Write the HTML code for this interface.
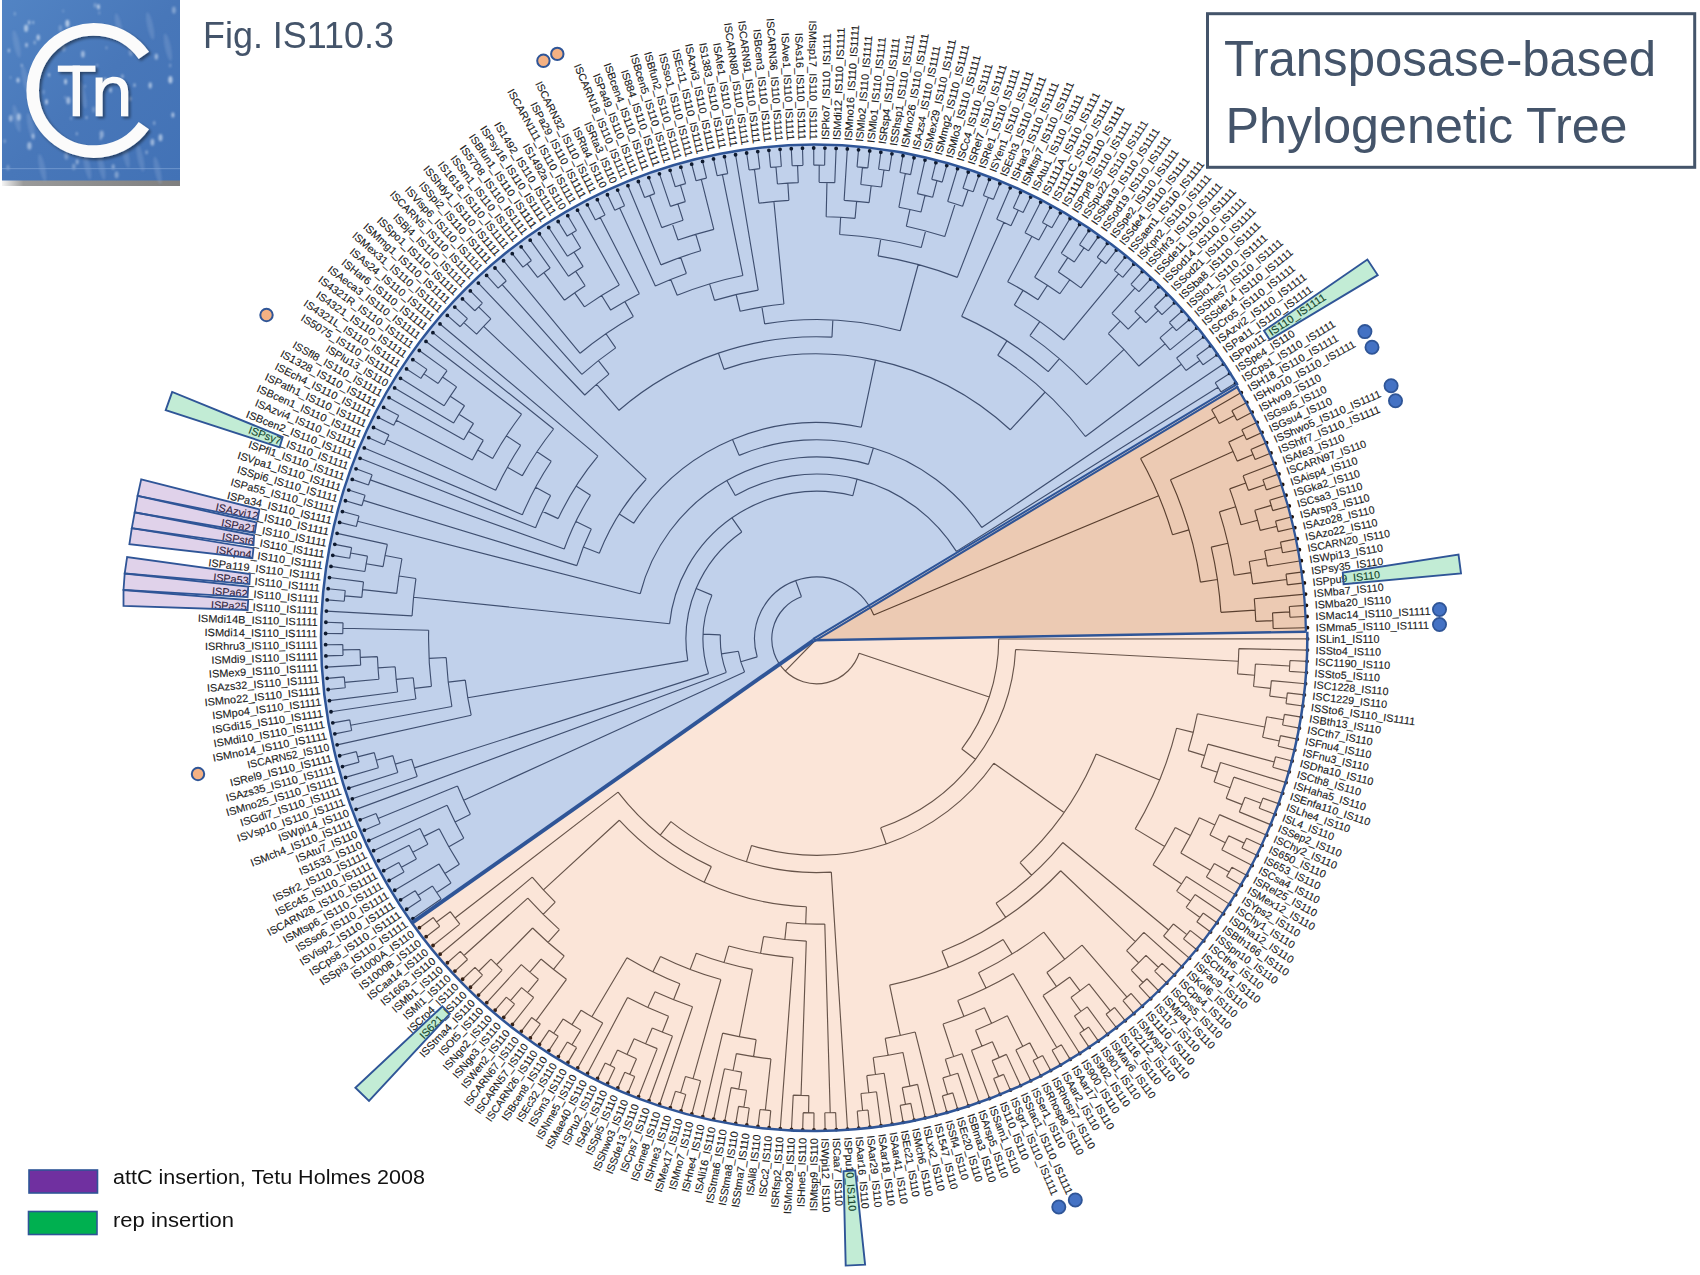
<!DOCTYPE html>
<html><head><meta charset="utf-8"><style>html,body{margin:0;padding:0;background:#fff;}svg{display:block;}</style></head>
<body><svg xmlns="http://www.w3.org/2000/svg" width="1700" height="1275" viewBox="0 0 1700 1275">
<rect width="1700" height="1275" fill="#fff"/>
<path d="M813.50,640.30L1237.71,385.21A493.1,493.1 0 1 0 411.93,922.95Z" fill="#C1D1EB"/><path d="M813.50,640.30L411.93,922.95A493.1,493.1 0 0 0 1307.31,631.68Z" fill="#FBE5D8"/><path d="M813.50,640.30L1305.91,631.70A491.7,491.7 0 0 0 1236.51,385.93Z" fill="#ECCAB3"/>
<defs><clipPath id="cb"><path d="M813.50,640.30L1237.71,385.21A493.1,493.1 0 1 0 411.93,922.95Z"/></clipPath><clipPath id="cp"><path d="M813.50,640.30L411.93,922.95A493.1,493.1 0 0 0 1307.31,631.68Z"/></clipPath><clipPath id="ct"><path d="M813.50,640.30L1305.91,631.70A491.7,491.7 0 0 0 1236.51,385.93Z"/></clipPath></defs>
<defs><path id="tr" d="M816.60,639.00L785.22,671.03M801.46,596.79A44.84,44.84 0 1 0 859.11,653.27M801.46,596.79L795.67,580.64M873.78,615.04A62.00,62.00 0 0 0 757.22,656.85M873.78,615.04L1158.66,495.66M1172.51,534.70A370.88,370.88 0 0 0 1140.54,458.41M1172.51,534.70L1188.98,529.87M1200.44,582.06A388.04,388.04 0 0 0 1170.46,479.75M1200.44,582.06L1217.41,579.54M1220.92,612.33A405.20,405.20 0 0 0 1211.25,547.15M1220.92,612.33L1255.17,610.07M1254.28,598.80A439.52,439.52 0 0 1 1255.77,621.35M1254.28,598.80L1305.54,594.10M1255.77,621.35L1272.91,620.66M1273.16,628.48A456.68,456.68 0 0 0 1272.53,612.84M1273.16,628.48L1307.47,627.69M1272.53,612.84L1289.66,611.86M1289.94,617.26A473.84,473.84 0 0 0 1289.32,606.46M1289.94,617.26L1307.08,616.48M1289.32,606.46L1306.44,605.28M1211.25,547.15L1227.97,543.26M1234.12,575.23A422.36,422.36 0 0 0 1219.37,511.85M1234.12,575.23L1251.08,572.64M1252.64,583.83A439.52,439.52 0 0 0 1249.23,561.50M1252.64,583.83L1286.69,579.52M1287.34,584.90A473.84,473.84 0 0 0 1285.98,574.16M1287.34,584.90L1304.39,582.94M1285.98,574.16L1302.98,571.81M1249.23,561.50L1266.12,558.47M1267.44,566.19A456.68,456.68 0 0 0 1264.68,550.78M1267.44,566.19L1301.32,560.71M1264.68,550.78L1281.51,547.47M1282.53,552.78A473.84,473.84 0 0 0 1280.44,542.16M1282.53,552.78L1299.40,549.66M1280.44,542.16L1297.24,538.65M1219.37,511.85L1235.73,506.69M1241.01,524.76A439.52,439.52 0 0 0 1229.68,488.86M1241.01,524.76L1257.58,520.30M1260.18,530.40A456.68,456.68 0 0 0 1254.76,510.25M1260.18,530.40L1276.85,526.32M1278.11,531.59A473.84,473.84 0 0 0 1275.53,521.07M1278.11,531.59L1294.82,527.70M1275.53,521.07L1292.15,516.80M1254.76,510.25L1271.22,505.42M1272.72,510.62A473.84,473.84 0 0 0 1269.67,500.23M1272.72,510.62L1289.24,505.97M1269.67,500.23L1286.07,495.21M1229.68,488.86L1245.81,483.00M1248.42,490.37A456.68,456.68 0 0 0 1243.07,475.67M1248.42,490.37L1264.64,484.79M1266.38,489.92A473.84,473.84 0 0 0 1262.85,479.68M1266.38,489.92L1282.67,484.52M1262.85,479.68L1279.01,473.91M1243.07,475.67L1275.12,463.39M1170.46,479.75L1233.05,451.58M1237.22,461.15A456.68,456.68 0 0 0 1228.66,442.12M1237.22,461.15L1253.03,454.47M1255.11,459.46A473.84,473.84 0 0 0 1250.89,449.49M1255.11,459.46L1270.99,452.96M1250.89,449.49L1266.62,442.63M1228.66,442.12L1244.14,434.72M1246.45,439.62A473.84,473.84 0 0 0 1241.78,429.85M1246.45,439.62L1262.02,432.40M1241.78,429.85L1257.18,422.28M1140.54,458.41L1215.49,416.63M1219.24,423.50A456.68,456.68 0 0 0 1211.62,409.83M1219.24,423.50L1234.37,415.40M1236.89,420.19A473.84,473.84 0 0 0 1231.79,410.65M1236.89,420.19L1252.12,412.27M1231.79,410.65L1246.82,402.38M1211.62,409.83L1241.30,392.61M757.22,656.85L740.79,661.79M738.39,651.25A79.16,79.16 0 0 0 744.60,671.90M738.39,651.25L721.44,653.91M720.37,634.81A96.32,96.32 0 0 0 726.26,672.42M720.37,634.81L703.23,634.07M711.95,595.12A113.48,113.48 0 0 0 708.53,673.63M711.95,595.12L696.12,588.48M741.77,531.91A130.64,130.64 0 0 0 687.77,660.69M741.77,531.91L731.94,517.85M852.84,495.71A147.80,147.80 0 0 0 669.59,623.75M852.84,495.71L857.04,479.07M956.37,551.38A164.96,164.96 0 0 0 735.29,495.47M956.37,551.38L1218.07,387.32M1220.92,391.92A473.84,473.84 0 0 0 1215.17,382.75M1220.92,391.92L1235.56,382.97M1215.17,382.75L1229.60,373.47M735.29,495.47L726.83,480.54M868.46,464.42A182.12,182.12 0 0 0 640.19,593.74M868.46,464.42L873.35,447.97M981.72,527.43A199.28,199.28 0 0 0 739.17,455.38M981.72,527.43L1223.43,364.10M739.17,455.38L732.50,439.57M861.29,427.22A216.44,216.44 0 0 0 633.76,523.17M861.29,427.22L875.46,360.06M1010.23,429.77A285.08,285.08 0 0 0 724.02,369.37M1010.23,429.77L1045.20,391.99M1085.41,436.49A336.56,336.56 0 0 0 997.72,355.33M1085.41,436.49L1181.36,364.21M1186.01,370.50A456.68,456.68 0 0 0 1176.59,358.00M1186.01,370.50L1199.89,360.41M1203.05,364.81A473.84,473.84 0 0 0 1196.68,356.05M1203.05,364.81L1217.04,354.88M1196.68,356.05L1210.45,345.80M1176.59,358.00L1203.65,336.88M997.72,355.33L1006.95,340.87M1048.23,371.67A353.72,353.72 0 0 0 961.64,316.38M1048.23,371.67L1059.47,358.70M1086.55,384.68A370.88,370.88 0 0 0 1029.91,335.60M1086.55,384.68L1124.02,349.38M1138.89,366.02A422.36,422.36 0 0 0 1108.29,333.55M1138.89,366.02L1165.07,343.83M1170.08,349.85A456.68,456.68 0 0 0 1159.96,337.91M1170.08,349.85L1196.64,328.12M1159.96,337.91L1172.87,326.59M1176.41,330.68A473.84,473.84 0 0 0 1169.27,322.54M1176.41,330.68L1189.44,319.52M1169.27,322.54L1182.05,311.08M1108.29,333.55L1120.15,321.14M1128.21,329.04A439.52,439.52 0 0 0 1111.88,313.44M1128.21,329.04L1140.38,316.94M1145.85,322.54A456.68,456.68 0 0 0 1134.82,311.44M1145.85,322.54L1158.22,310.64M1161.95,314.57A473.84,473.84 0 0 0 1154.45,306.76M1161.95,314.57L1174.46,302.82M1154.45,306.76L1166.69,294.73M1134.82,311.44L1158.73,286.82M1111.88,313.44L1134.93,288.02M1138.92,291.68A473.84,473.84 0 0 0 1130.90,284.40M1138.92,291.68L1150.59,279.10M1130.90,284.40L1142.28,271.56M1029.91,335.60L1039.78,321.56M1063.89,339.96A388.04,388.04 0 0 0 1014.30,305.10M1063.89,339.96L1118.57,273.84M1122.72,277.32A473.84,473.84 0 0 0 1114.38,270.42M1122.72,277.32L1133.81,264.22M1114.38,270.42L1125.16,257.07M1014.30,305.10L1023.05,290.34M1038.03,299.65A405.20,405.20 0 0 0 1007.67,281.68M1038.03,299.65L1047.41,285.28M1059.89,293.75A422.36,422.36 0 0 0 1034.64,277.27M1059.89,293.75L1069.77,279.72M1080.93,287.85A439.52,439.52 0 0 0 1058.36,271.94M1080.93,287.85L1101.57,260.43M1105.88,263.71A473.84,473.84 0 0 0 1097.23,257.20M1105.88,263.71L1116.35,250.12M1097.23,257.20L1107.39,243.37M1058.36,271.94L1067.80,257.61M1074.30,261.97A456.68,456.68 0 0 0 1061.23,253.37M1074.30,261.97L1083.98,247.81M1088.43,250.89A473.84,473.84 0 0 0 1079.49,244.78M1088.43,250.89L1098.28,236.83M1079.49,244.78L1089.02,230.50M1061.23,253.37L1079.61,224.38M1034.64,277.27L1070.07,218.48M1007.67,281.68L1031.94,236.28M1038.81,240.03A456.68,456.68 0 0 0 1025.01,232.65M1038.81,240.03L1047.16,225.04M1051.88,227.70A473.84,473.84 0 0 0 1042.42,222.43M1051.88,227.70L1060.40,212.80M1042.42,222.43L1050.60,207.34M1025.01,232.65L1040.67,202.11M961.64,316.38L1003.86,222.48M1010.97,225.75A456.68,456.68 0 0 0 996.69,219.33M1010.97,225.75L1018.27,210.22M1023.15,212.55A473.84,473.84 0 0 0 1013.36,207.94M1023.15,212.55L1030.64,197.11M1013.36,207.94L1020.48,192.33M996.69,219.33L1010.23,187.79M724.02,369.37L718.45,353.14M831.97,337.15A302.24,302.24 0 0 0 619.05,410.26M831.97,337.15L832.84,320.01M900.27,330.75A319.40,319.40 0 0 0 764.68,323.85M900.27,330.75L918.25,264.51M957.32,277.37A388.04,388.04 0 0 0 878.05,255.86M957.32,277.37L988.43,197.41M993.46,199.40A473.84,473.84 0 0 0 983.37,195.48M993.46,199.40L999.87,183.48M983.37,195.48L989.41,179.42M878.05,255.86L880.77,238.91M921.21,247.54A405.20,405.20 0 0 0 839.66,234.46M921.21,247.54L925.64,230.96M944.74,236.55A422.36,422.36 0 0 0 906.30,226.28M944.74,236.55L955.16,203.85M962.59,206.28A456.68,456.68 0 0 0 947.68,201.54M962.59,206.28L968.08,190.02M973.20,191.78A473.84,473.84 0 0 0 962.94,188.32M973.20,191.78L978.87,175.59M962.94,188.32L968.24,172.00M947.68,201.54L957.53,168.66M906.30,226.28L909.94,209.51M920.95,212.05A439.52,439.52 0 0 0 898.88,207.25M920.95,212.05L925.03,195.38M932.61,197.30A456.68,456.68 0 0 0 917.41,193.59M932.61,197.30L936.97,180.70M942.20,182.11A473.84,473.84 0 0 0 931.73,179.36M942.20,182.11L946.75,165.56M931.73,179.36L935.90,162.71M917.41,193.59L924.99,160.11M898.88,207.25L905.30,173.54M910.61,174.58A473.84,473.84 0 0 0 899.98,172.55M910.61,174.58L914.02,157.76M899.98,172.55L903.00,155.66M839.66,234.46L840.63,217.32M855.07,218.40A422.36,422.36 0 0 0 826.17,216.75M855.07,218.40L856.63,201.31M869.11,202.63A439.52,439.52 0 0 0 844.11,200.34M869.11,202.63L871.16,185.59M881.51,186.96A456.68,456.68 0 0 0 860.79,184.46M881.51,186.96L883.95,169.97M889.30,170.77A473.84,473.84 0 0 0 878.58,169.23M889.30,170.77L891.93,153.81M878.58,169.23L880.83,152.22M860.79,184.46L862.45,167.38M867.83,167.94A473.84,473.84 0 0 0 857.06,166.89M867.83,167.94L869.69,150.88M857.06,166.89L858.52,149.79M844.11,200.34L847.34,148.96M826.17,216.75L826.95,182.44M834.77,182.68A456.68,456.68 0 0 0 819.12,182.33M834.77,182.68L836.13,148.39M819.12,182.33L819.22,165.17M824.63,165.23A473.84,473.84 0 0 0 813.80,165.17M824.63,165.23L824.92,148.07M813.80,165.17L813.70,148.01M764.68,323.85L761.89,306.92M783.91,304.03A336.56,336.56 0 0 0 740.10,311.25M783.91,304.03L773.90,201.56M788.92,200.35A439.52,439.52 0 0 0 758.94,203.28M788.92,200.35L787.84,183.23M798.26,182.69A456.68,456.68 0 0 0 777.43,184.00M798.26,182.69L797.57,165.54M802.98,165.36A473.84,473.84 0 0 0 792.16,165.79M802.98,165.36L802.49,148.20M792.16,165.79L791.28,148.65M777.43,184.00L775.96,166.91M781.36,166.47A473.84,473.84 0 0 0 770.57,167.40M781.36,166.47L780.08,149.36M770.57,167.40L768.90,150.32M758.94,203.28L754.44,169.26M759.81,168.58A473.84,473.84 0 0 0 749.08,170.00M759.81,168.58L757.75,151.54M749.08,170.00L746.63,153.01M740.10,311.25L736.20,294.54M758.21,290.13A353.72,353.72 0 0 0 714.52,300.33M758.21,290.13L735.55,154.74M714.52,300.33L709.57,283.90M742.88,275.52A370.88,370.88 0 0 0 677.18,295.32M742.88,275.52L722.41,174.62M727.72,173.57A473.84,473.84 0 0 0 717.11,175.72M727.72,173.57L724.50,156.71M717.11,175.72L713.51,158.94M677.18,295.32L670.73,279.42M686.39,273.46A388.04,388.04 0 0 0 655.34,286.06M686.39,273.46L680.63,257.29M700.70,250.73A405.20,405.20 0 0 0 660.93,264.90M700.70,250.73L695.80,234.29M713.82,229.34A422.36,422.36 0 0 0 678.00,240.03M713.82,229.34L701.30,179.40M706.55,178.12A473.84,473.84 0 0 0 696.05,180.75M706.55,178.12L702.57,161.42M696.05,180.75L691.69,164.15M678.00,240.03L672.37,223.82M683.09,220.25A439.52,439.52 0 0 0 661.75,227.66M683.09,220.25L677.88,203.90M685.35,201.59A456.68,456.68 0 0 0 670.44,206.34M685.35,201.59L680.42,185.15M685.62,183.62A473.84,473.84 0 0 0 675.25,186.73M685.62,183.62L680.87,167.13M675.25,186.73L670.13,170.36M670.44,206.34L659.46,173.82M661.75,227.66L649.66,195.54M654.74,193.66A473.84,473.84 0 0 0 644.60,197.48M654.74,193.66L648.87,177.54M644.60,197.48L638.37,181.49M660.93,264.90L627.97,185.68M655.34,286.06L619.68,208.02M624.61,205.80A473.84,473.84 0 0 0 614.77,210.30M624.61,205.80L617.66,190.11M614.77,210.30L607.46,194.77M619.05,410.26L596.62,384.28M608.97,374.12A336.56,336.56 0 0 0 584.76,395.02M608.97,374.12L598.38,360.62M615.69,347.87A353.72,353.72 0 0 0 581.87,374.38M615.69,347.87L605.95,333.75M633.36,316.55A370.88,370.88 0 0 0 580.14,353.28M633.36,316.55L624.88,301.63M639.38,293.79A388.04,388.04 0 0 0 610.72,310.08M639.38,293.79L600.20,217.46M605.03,215.02A473.84,473.84 0 0 0 595.39,219.96M605.03,215.02L597.36,199.66M595.39,219.96L587.38,204.79M610.72,310.08L601.62,295.53M619.30,285.08A405.20,405.20 0 0 0 584.49,306.87M619.30,285.08L577.52,210.14M584.49,306.87L574.66,292.80M585.15,285.70A422.36,422.36 0 0 0 564.39,300.21M585.15,285.70L575.75,271.35M583.15,266.61A439.52,439.52 0 0 0 568.45,276.24M583.15,266.61L574.03,252.07M580.70,247.97A456.68,456.68 0 0 0 567.44,256.28M580.70,247.97L571.83,233.27M576.48,230.50A473.84,473.84 0 0 0 567.21,236.10M576.48,230.50L567.79,215.71M567.21,236.10L558.18,221.51M567.44,256.28L548.71,227.52M568.45,276.24L539.38,233.75M564.39,300.21L543.90,272.68M537.66,277.41A456.68,456.68 0 0 1 550.21,268.06M537.66,277.41L527.18,263.82M531.48,260.54A473.84,473.84 0 0 0 522.91,267.15M531.48,260.54L521.16,246.83M522.91,267.15L512.28,253.68M550.21,268.06L530.20,240.19M580.14,353.28L503.55,260.74M581.87,374.38L502.16,284.52M506.23,280.95A473.84,473.84 0 0 0 498.13,288.14M506.23,280.95L494.99,267.99M498.13,288.14L486.60,275.43M584.76,395.02L478.38,283.07M633.76,523.17L619.27,513.98M646.28,479.12A233.60,233.60 0 0 0 599.29,553.30M646.28,479.12L483.64,326.44M490.86,318.92A456.68,456.68 0 0 0 476.58,334.13M490.86,318.92L478.62,306.89M482.44,303.05A473.84,473.84 0 0 0 474.85,310.77M482.44,303.05L470.34,290.89M474.85,310.77L462.47,298.89M476.58,334.13L463.80,322.68M467.44,318.67A473.84,473.84 0 0 0 460.21,326.73M467.44,318.67L454.80,307.07M460.21,326.73L447.31,315.42M599.29,553.30L583.32,547.01M591.29,528.93A250.76,250.76 0 0 0 576.81,565.65M591.29,528.93L575.87,521.40M590.50,495.26A267.92,267.92 0 0 0 564.24,549.01M590.50,495.26L576.02,486.05M597.95,456.07A285.08,285.08 0 0 0 558.18,518.63M597.95,456.07L440.01,323.94M558.18,518.63L542.62,511.39M550.64,495.43A302.24,302.24 0 0 0 535.56,527.79M550.64,495.43L535.54,487.28M551.26,461.21A319.40,319.40 0 0 0 522.37,514.72M551.26,461.21L537.00,451.66M553.60,428.99A336.56,336.56 0 0 0 522.35,475.63M553.60,428.99L432.91,332.63M522.35,475.63L507.35,467.30M520.68,445.23A353.72,353.72 0 0 0 495.66,490.29M520.68,445.23L506.32,435.82M521.57,414.26A370.88,370.88 0 0 0 492.65,458.42M521.57,414.26L426.01,341.47M492.65,458.42L477.66,450.06M483.27,440.34A388.04,388.04 0 0 0 472.34,459.94M483.27,440.34L468.53,431.56M473.51,423.42A405.20,405.20 0 0 0 463.74,439.82M473.51,423.42L458.98,414.29M464.54,405.67A422.36,422.36 0 0 0 453.63,423.03M464.54,405.67L450.24,396.19M456.60,386.86A439.52,439.52 0 0 0 444.12,405.69M456.60,386.86L442.54,377.01M447.09,370.64A456.68,456.68 0 0 0 438.11,383.46M447.09,370.64L419.32,350.47M438.11,383.46L423.89,373.86M426.94,369.39A473.84,473.84 0 0 0 420.88,378.36M426.94,369.39L412.83,359.62M420.88,378.36L406.55,368.92M444.12,405.69L400.49,378.36M453.63,423.03L394.64,387.94M463.74,439.82L389.02,397.64M472.34,459.94L396.22,420.35M398.75,415.56A473.84,473.84 0 0 0 393.75,425.17M398.75,415.56L383.62,407.47M393.75,425.17L378.44,417.42M495.66,490.29L386.67,439.78M388.98,434.88A473.84,473.84 0 0 0 384.43,444.71M388.98,434.88L373.49,427.49M384.43,444.71L368.77,437.67M522.37,514.72L364.29,447.95M535.56,527.79L360.05,458.34M564.24,549.01L370.29,479.85M372.13,474.76A473.84,473.84 0 0 0 368.50,484.96M372.13,474.76L356.04,468.82M368.50,484.96L352.27,479.38M576.81,565.65L363.48,500.41M365.09,495.24A473.84,473.84 0 0 0 361.93,505.59M365.09,495.24L348.74,490.03M361.93,505.59L345.46,500.76M640.19,593.74L357.62,521.25M359.00,516.01A473.84,473.84 0 0 0 356.31,526.50M359.00,516.01L342.43,511.56M356.31,526.50L339.64,522.42M669.59,623.75L413.56,597.20M415.93,578.55A405.20,405.20 0 0 0 412.06,615.94M415.93,578.55L398.97,575.99M401.93,558.75A422.36,422.36 0 0 0 396.72,593.33M401.93,558.75L385.09,555.49M387.37,544.43A439.52,439.52 0 0 0 383.08,566.61M387.37,544.43L337.10,533.35M383.08,566.61L366.16,563.78M367.51,556.08A456.68,456.68 0 0 0 364.93,571.51M367.51,556.08L350.64,552.96M351.65,547.64A473.84,473.84 0 0 0 349.68,558.29M351.65,547.64L334.81,544.33M349.68,558.29L332.78,555.37M364.93,571.51L330.99,566.44M396.72,593.33L362.60,589.62M363.51,581.85A456.68,456.68 0 0 0 361.82,597.41M363.51,581.85L329.46,577.55M361.82,597.41L344.73,595.85M345.25,590.46A473.84,473.84 0 0 0 344.27,601.24M345.25,590.46L328.18,588.70M344.27,601.24L327.16,599.87M412.06,615.94L326.40,611.06M687.77,660.69L467.79,697.73M465.27,680.08A353.72,353.72 0 0 0 471.19,715.24M465.27,680.08L448.23,682.07M446.18,657.47A370.88,370.88 0 0 0 451.91,706.48M446.18,657.47L429.04,658.32M428.66,630.21A388.04,388.04 0 0 0 431.46,686.33M428.66,630.21L342.88,628.26M343.04,622.85A473.84,473.84 0 0 0 342.79,633.68M343.04,622.85L325.89,622.27M342.79,633.68L325.63,633.48M431.46,686.33L414.43,688.43M413.26,677.79A405.20,405.20 0 0 0 415.87,699.03M413.26,677.79L396.18,679.43M395.16,666.80A422.36,422.36 0 0 0 397.58,692.02M395.16,666.80L378.03,667.93M377.43,656.65A439.52,439.52 0 0 0 378.92,679.20M377.43,656.65L360.29,657.34M360.04,649.52A456.68,456.68 0 0 0 360.67,665.16M360.04,649.52L342.89,649.92M342.79,644.50A473.84,473.84 0 0 0 343.04,655.33M342.79,644.50L325.63,644.70M343.04,655.33L325.89,655.92M360.67,665.16L326.41,667.12M378.92,679.20L344.75,682.33M344.28,676.94A473.84,473.84 0 0 0 345.27,687.72M344.28,676.94L327.18,678.32M345.27,687.72L328.20,689.49M397.58,692.02L329.48,700.63M415.87,699.03L331.02,711.74M451.91,706.48L350.67,725.22M349.72,719.89A473.84,473.84 0 0 0 351.69,730.53M349.72,719.89L332.81,722.82M351.69,730.53L334.85,733.85M471.19,715.24L337.14,744.83M708.53,673.63L414.38,767.87M411.71,759.23A422.36,422.36 0 0 0 417.23,776.46M411.71,759.23L395.26,764.11M392.85,755.66A439.52,439.52 0 0 0 397.85,772.51M392.85,755.66L376.30,760.22M374.29,752.66A456.68,456.68 0 0 0 378.44,767.75M374.29,752.66L357.67,756.93M356.35,751.68A473.84,473.84 0 0 0 359.05,762.16M356.35,751.68L339.68,755.76M359.05,762.16L342.48,766.62M378.44,767.75L345.52,777.42M397.85,772.51L348.80,788.15M417.23,776.46L352.33,798.80M726.26,672.42L356.10,809.36M744.60,671.90L463.66,800.26M457.49,786.03A388.04,388.04 0 0 0 470.39,814.24M457.49,786.03L378.09,818.54M376.07,813.52A473.84,473.84 0 0 0 380.17,823.53M376.07,813.52L360.11,819.84M380.17,823.53L364.36,830.22M470.39,814.24L455.08,821.99M447.09,805.29A405.20,405.20 0 0 0 463.81,838.32M447.09,805.29L368.85,840.50M463.81,838.32L448.87,846.76M439.22,828.67A422.36,422.36 0 0 0 459.39,864.36M439.22,828.67L423.89,836.37M420.02,828.48A439.52,439.52 0 0 0 427.91,844.18M420.02,828.48L373.57,850.68M427.91,844.18L412.74,852.19M409.14,845.24A456.68,456.68 0 0 0 416.45,859.08M409.14,845.24L378.52,860.74M416.45,859.08L401.41,867.35M398.83,862.60A473.84,473.84 0 0 0 404.05,872.08M398.83,862.60L383.70,870.69M404.05,872.08L389.11,880.52M459.39,864.36L444.87,873.52M438.97,863.89A439.52,439.52 0 0 0 451.02,882.99M438.97,863.89L394.74,890.23M451.02,882.99L436.75,892.52M432.46,885.97A456.68,456.68 0 0 0 441.15,898.99M432.46,885.97L418.03,895.25M415.13,890.68A473.84,473.84 0 0 0 420.98,899.79M415.13,890.68L400.59,899.80M420.98,899.79L406.66,909.23M441.15,898.99L412.94,918.53M859.11,653.27L989.24,696.98M961.78,748.95A182.12,182.12 0 0 0 998.72,638.97M961.78,748.95L975.46,759.31M880.63,827.71A199.28,199.28 0 0 0 1015.60,649.49M880.63,827.71L886.14,843.96M751.57,845.44A216.44,216.44 0 0 0 993.83,763.24M751.57,845.44L746.41,861.81M670.92,821.61A233.60,233.60 0 0 0 831.31,872.14M670.92,821.61L660.22,835.02M618.05,792.16A250.76,250.76 0 0 0 711.37,866.61M618.05,792.16L455.01,917.94M450.28,911.70A456.68,456.68 0 0 0 459.84,924.09M450.28,911.70L436.52,921.95M433.31,917.59A473.84,473.84 0 0 0 439.77,926.27M433.31,917.59L419.43,927.68M439.77,926.27L426.13,936.68M459.84,924.09L433.03,945.52M711.37,866.61L704.17,882.19M619.28,820.23A267.92,267.92 0 0 0 806.36,906.72M619.28,820.23L543.45,889.88M532.23,877.09A370.88,370.88 0 0 0 555.24,902.14M532.23,877.09L440.13,954.20M555.24,902.14L543.15,914.32M527.79,898.15A388.04,388.04 0 0 0 559.42,929.57M527.79,898.15L463.93,955.46M460.33,951.41A473.84,473.84 0 0 0 467.56,959.47M460.33,951.41L447.43,962.72M467.56,959.47L454.92,971.07M559.42,929.57L548.04,942.42M532.60,928.02A405.20,405.20 0 0 0 564.22,956.00M532.60,928.02L496.52,964.74M490.98,959.20A456.68,456.68 0 0 0 502.15,970.17M490.98,959.20L478.75,971.24M474.98,967.36A473.84,473.84 0 0 0 482.57,975.07M474.98,967.36L462.60,979.25M482.57,975.07L470.47,987.25M502.15,970.17L478.52,995.06M564.22,956.00L553.53,969.43M540.99,959.04A422.36,422.36 0 0 0 566.46,979.32M540.99,959.04L529.79,972.04M521.32,964.56A439.52,439.52 0 0 0 538.44,979.30M521.32,964.56L486.74,1002.69M538.44,979.30L527.58,992.59M521.57,987.59A456.68,456.68 0 0 0 533.68,997.49M521.57,987.59L510.48,1000.68M506.37,997.16A473.84,473.84 0 0 0 514.63,1004.16M506.37,997.16L495.13,1010.13M514.63,1004.16L503.70,1017.38M533.68,997.49L512.42,1024.43M566.46,979.32L535.97,1020.80M531.63,1017.57A473.84,473.84 0 0 0 540.35,1023.98M531.63,1017.57L521.31,1031.28M540.35,1023.98L530.35,1037.92M806.36,906.72L805.70,923.87M786.65,922.50A285.08,285.08 0 0 0 824.80,923.96M786.65,922.50L784.85,939.57M763.56,936.55A302.24,302.24 0 0 0 806.30,941.06M763.56,936.55L760.55,953.44M728.73,946.07A319.40,319.40 0 0 0 792.97,957.52M728.73,946.07L724.01,962.57M696.29,953.32A336.56,336.56 0 0 0 752.42,969.38M696.29,953.32L690.16,969.35M660.48,956.40A353.72,353.72 0 0 0 720.89,979.53M660.48,956.40L652.90,971.80M626.96,957.73A370.88,370.88 0 0 0 679.89,983.76M626.96,957.73L591.86,1016.72M581.16,1010.14A439.52,439.52 0 0 0 602.74,1022.98M581.16,1010.14L571.97,1024.63M563.23,1018.94A456.68,456.68 0 0 0 580.85,1030.12M563.23,1018.94L553.71,1033.22M549.22,1030.19A473.84,473.84 0 0 0 558.23,1036.20M549.22,1030.19L539.54,1044.36M558.23,1036.20L548.87,1050.58M580.85,1030.12L571.99,1044.82M567.37,1042.00A473.84,473.84 0 0 0 576.64,1047.59M567.37,1042.00L558.34,1056.59M576.64,1047.59L567.95,1062.38M602.74,1022.98L577.69,1067.95M679.89,983.76L673.56,999.72M654.97,991.77A388.04,388.04 0 0 0 692.55,1006.68M654.97,991.77L647.82,1007.37M627.57,997.41A405.20,405.20 0 0 0 668.58,1016.20M627.57,997.41L587.55,1073.30M668.58,1016.20L662.32,1032.17M652.26,1028.08A422.36,422.36 0 0 0 672.47,1036.01M652.26,1028.08L645.59,1043.88M634.09,1038.84A439.52,439.52 0 0 0 657.22,1048.60M634.09,1038.84L626.97,1054.45M617.53,1050.01A456.68,456.68 0 0 0 636.51,1058.67M617.53,1050.01L610.05,1065.45M605.19,1063.06A473.84,473.84 0 0 0 614.93,1067.78M605.19,1063.06L597.53,1078.42M614.93,1067.78L607.63,1083.31M636.51,1058.67L629.74,1074.44M624.78,1072.28A473.84,473.84 0 0 0 634.73,1076.55M624.78,1072.28L617.83,1087.97M634.73,1076.55L628.14,1092.39M657.22,1048.60L638.55,1096.58M672.47,1036.01L649.05,1100.53M692.55,1006.68L659.64,1104.23M720.89,979.53L693.04,1078.65M685.52,1076.46A456.68,456.68 0 0 0 700.59,1080.70M685.52,1076.46L680.60,1092.90M675.42,1091.32A473.84,473.84 0 0 0 685.79,1094.43M675.42,1091.32L670.31,1107.70M685.79,1094.43L681.05,1110.92M700.59,1080.70L691.87,1113.89M752.42,969.38L739.33,1036.76M722.65,1033.16A405.20,405.20 0 0 0 756.15,1039.67M722.65,1033.16L702.75,1116.62M756.15,1039.67L753.59,1056.63M736.35,1053.67A422.36,422.36 0 0 0 770.93,1058.88M736.35,1053.67L733.09,1070.51M724.48,1068.76A439.52,439.52 0 0 0 741.73,1072.10M724.48,1068.76L713.69,1119.09M741.73,1072.10L738.81,1089.01M731.11,1087.61A456.68,456.68 0 0 0 746.53,1090.27M731.11,1087.61L724.69,1121.32M746.53,1090.27L743.90,1107.23M738.56,1106.37A473.84,473.84 0 0 0 749.25,1108.03M738.56,1106.37L735.73,1123.29M749.25,1108.03L746.82,1125.02M770.93,1058.88L765.37,1110.06M759.99,1109.45A473.84,473.84 0 0 0 770.75,1110.62M759.99,1109.45L757.94,1126.48M770.75,1110.62L769.09,1127.70M792.97,957.52L780.27,1128.65M806.30,941.06L801.04,1095.41M793.22,1095.08A456.68,456.68 0 0 0 808.86,1095.61M793.22,1095.08L791.46,1129.36M808.86,1095.61L808.57,1112.77M803.16,1112.65A473.84,473.84 0 0 0 813.98,1112.83M803.16,1112.65L802.67,1129.80M813.98,1112.83L813.89,1129.99M824.80,923.96L830.22,1112.64M824.81,1112.77A473.84,473.84 0 0 0 835.63,1112.46M824.81,1112.77L825.11,1129.93M835.63,1112.46L836.32,1129.60M831.31,872.14L847.52,1129.03M993.83,763.24L1064.09,812.49M1019.99,862.57A302.24,302.24 0 0 0 1096.12,753.96M1019.99,862.57L1031.54,875.26M996.03,903.24A319.40,319.40 0 0 0 1062.74,842.55M996.03,903.24L1005.67,917.44M941.98,951.33A336.56,336.56 0 0 0 1060.67,870.74M941.98,951.33L948.37,967.26M889.63,985.10A353.72,353.72 0 0 0 1003.14,939.53M889.63,985.10L900.26,1035.47M885.20,1038.35A405.20,405.20 0 0 0 915.20,1032.02M885.20,1038.35L888.11,1055.26M873.20,1057.55A422.36,422.36 0 0 0 902.92,1052.45M873.20,1057.55L875.50,1074.56M866.78,1075.65A439.52,439.52 0 0 0 884.20,1073.29M866.78,1075.65L868.74,1092.69M860.96,1093.52A456.68,456.68 0 0 0 876.51,1091.73M860.96,1093.52L862.63,1110.60M857.24,1111.09A473.84,473.84 0 0 0 868.01,1110.04M857.24,1111.09L858.71,1128.19M868.01,1110.04L869.88,1127.10M876.51,1091.73L881.01,1125.76M884.20,1073.29L892.12,1124.16M902.92,1052.45L909.93,1086.04M902.26,1087.57A456.68,456.68 0 0 0 917.58,1084.38M902.26,1087.57L905.48,1104.43M900.15,1105.42A473.84,473.84 0 0 0 910.79,1103.38M900.15,1105.42L903.18,1122.31M910.79,1103.38L914.20,1120.20M917.58,1084.38L925.17,1117.85M915.20,1032.02L936.08,1115.24M1003.14,939.53L1012.19,954.11M978.52,972.67A370.88,370.88 0 0 0 1043.76,932.17M978.52,972.67L986.01,988.11M957.71,1000.47A388.04,388.04 0 0 0 1013.24,973.53M957.71,1000.47L963.95,1016.46M942.99,1023.98A405.20,405.20 0 0 0 984.47,1007.79M942.99,1023.98L953.69,1056.59M945.32,1059.25A439.52,439.52 0 0 0 962.01,1053.77M945.32,1059.25L950.34,1075.66M942.84,1077.88A456.68,456.68 0 0 0 957.80,1073.30M942.84,1077.88L947.58,1094.38M942.37,1095.84A473.84,473.84 0 0 0 952.78,1092.85M942.37,1095.84L946.93,1112.39M952.78,1092.85L957.71,1109.29M957.80,1073.30L968.42,1105.94M962.01,1053.77L979.04,1102.35M984.47,1007.79L991.58,1023.41M975.51,1030.32A422.36,422.36 0 0 0 1007.34,1015.84M975.51,1030.32L981.97,1046.22M971.45,1050.34A439.52,439.52 0 0 0 992.38,1041.84M971.45,1050.34L989.59,1098.52M992.38,1041.84L999.25,1057.57M992.05,1060.63A456.68,456.68 0 0 0 1006.39,1054.37M992.05,1060.63L998.64,1076.48M993.63,1078.53A473.84,473.84 0 0 0 1003.62,1074.37M993.63,1078.53L1000.04,1094.45M1003.62,1074.37L1010.40,1090.14M1006.39,1054.37L1020.65,1085.59M1007.34,1015.84L1022.84,1046.46M1015.83,1049.93A456.68,456.68 0 0 0 1029.79,1042.86M1015.83,1049.93L1030.80,1080.81M1029.79,1042.86L1037.81,1058.04M1033.00,1060.54A473.84,473.84 0 0 0 1042.58,1055.48M1033.00,1060.54L1040.84,1075.80M1042.58,1055.48L1050.76,1070.57M1013.24,973.53L1056.72,1047.50M1052.03,1050.21A473.84,473.84 0 0 0 1061.37,1044.73M1052.03,1050.21L1060.56,1065.10M1061.37,1044.73L1070.23,1059.42M1043.76,932.17L1064.78,959.30M1046.81,972.45A405.20,405.20 0 0 0 1082.01,945.18M1046.81,972.45L1056.56,986.58M1042.98,995.57A422.36,422.36 0 0 0 1069.78,977.07M1042.98,995.57L1079.77,1053.51M1069.78,977.07L1080.06,990.80M1070.93,997.46A439.52,439.52 0 0 0 1089.02,983.92M1070.93,997.46L1080.86,1011.45M1074.44,1015.93A456.68,456.68 0 0 0 1087.21,1006.87M1074.44,1015.93L1084.13,1030.09M1079.65,1033.12A473.84,473.84 0 0 0 1088.58,1027.01M1079.65,1033.12L1089.17,1047.39M1088.58,1027.01L1098.43,1041.06M1087.21,1006.87L1107.54,1034.52M1089.02,983.92L1110.29,1010.85M1106.02,1014.18A473.84,473.84 0 0 0 1114.52,1007.47M1106.02,1014.18L1116.50,1027.77M1114.52,1007.47L1125.31,1020.81M1082.01,945.18L1126.97,997.05M1122.86,1000.57A473.84,473.84 0 0 0 1131.04,993.48M1122.86,1000.57L1133.95,1013.66M1131.04,993.48L1142.42,1006.31M1060.67,870.74L1135.33,941.64M1126.56,950.61A439.52,439.52 0 0 0 1143.84,932.41M1126.56,950.61L1138.66,962.78M1131.18,970.05A456.68,456.68 0 0 0 1145.97,955.34M1131.18,970.05L1143.00,982.49M1139.05,986.20A473.84,473.84 0 0 0 1146.90,978.74M1139.05,986.20L1150.73,998.77M1146.90,978.74L1158.86,991.05M1145.97,955.34L1158.35,967.23M1154.58,971.11A473.84,473.84 0 0 0 1162.08,963.30M1154.58,971.11L1166.82,983.14M1162.08,963.30L1174.59,975.04M1143.84,932.41L1182.17,966.78M1062.74,842.55L1168.53,930.03M1163.49,936.02A456.68,456.68 0 0 0 1173.47,923.96M1163.49,936.02L1189.56,958.34M1173.47,923.96L1186.88,934.67M1183.48,938.88A473.84,473.84 0 0 0 1190.23,930.42M1183.48,938.88L1196.76,949.74M1190.23,930.42L1203.76,940.97M1096.12,753.96L1159.60,780.07M1135.19,828.87A370.88,370.88 0 0 0 1176.59,728.21M1135.19,828.87L1164.67,846.44M1153.07,864.77A405.20,405.20 0 0 0 1175.28,827.51M1153.07,864.77L1181.57,883.90M1176.60,891.14A439.52,439.52 0 0 0 1186.39,876.55M1176.60,891.14L1190.66,900.99M1186.11,907.36A456.68,456.68 0 0 0 1195.09,894.54M1186.11,907.36L1200.00,917.44M1196.79,921.80A473.84,473.84 0 0 0 1203.15,913.05M1196.79,921.80L1210.56,932.05M1203.15,913.05L1217.15,922.97M1195.09,894.54L1223.54,913.74M1186.39,876.55L1229.71,904.38M1175.28,827.51L1190.47,835.50M1180.80,852.89A422.36,422.36 0 0 0 1199.31,817.67M1180.80,852.89L1210.39,870.27M1206.37,876.98A456.68,456.68 0 0 0 1214.30,863.49M1206.37,876.98L1235.66,894.87M1214.30,863.49L1229.24,871.92M1226.55,876.62A473.84,473.84 0 0 0 1231.87,867.20M1226.55,876.62L1241.40,885.23M1231.87,867.20L1246.91,875.46M1199.31,817.67L1214.86,824.93M1209.95,835.10A439.52,439.52 0 0 0 1219.50,814.63M1209.95,835.10L1225.31,842.76M1221.75,849.73A456.68,456.68 0 0 0 1228.74,835.72M1221.75,849.73L1252.20,865.57M1228.74,835.72L1244.22,843.12M1241.86,847.99A473.84,473.84 0 0 0 1246.53,838.22M1241.86,847.99L1257.26,855.56M1246.53,838.22L1262.10,845.43M1219.50,814.63L1266.70,835.20M1176.59,728.21L1193.25,732.34M1188.23,750.64A388.04,388.04 0 0 0 1197.36,713.81M1188.23,750.64L1204.67,755.58M1201.09,766.89A405.20,405.20 0 0 0 1207.91,744.17M1201.09,766.89L1217.37,772.30M1214.02,781.99A422.36,422.36 0 0 0 1220.49,762.54M1214.02,781.99L1230.16,787.80M1226.20,798.38A439.52,439.52 0 0 0 1233.85,777.13M1226.20,798.38L1242.20,804.61M1239.30,811.87A456.68,456.68 0 0 0 1244.97,797.29M1239.30,811.87L1271.06,824.87M1244.97,797.29L1261.07,803.24M1259.16,808.30A473.84,473.84 0 0 0 1262.91,798.15M1259.16,808.30L1275.19,814.43M1262.91,798.15L1279.08,803.91M1233.85,777.13L1282.72,793.30M1220.49,762.54L1286.13,782.61M1207.91,744.17L1274.20,761.99M1272.77,767.21A473.84,473.84 0 0 0 1275.58,756.75M1272.77,767.21L1289.29,771.85M1275.58,756.75L1292.20,761.02M1197.36,713.81L1264.71,727.05M1262.58,737.26A456.68,456.68 0 0 0 1266.61,716.79M1262.58,737.26L1279.34,740.96M1278.15,746.24A473.84,473.84 0 0 0 1280.48,735.66M1278.15,746.24L1294.86,750.12M1280.48,735.66L1297.27,739.16M1266.61,716.79L1283.52,719.71M1282.56,725.04A473.84,473.84 0 0 0 1284.41,714.37M1282.56,725.04L1299.44,728.16M1284.41,714.37L1301.35,717.10M1015.60,649.49L1238.37,661.23M1237.52,673.86A422.36,422.36 0 0 0 1238.85,648.57M1237.52,673.86L1254.62,675.28M1253.54,686.52A439.52,439.52 0 0 0 1255.41,664.01M1253.54,686.52L1270.60,688.38M1269.69,696.15A456.68,456.68 0 0 0 1271.38,680.59M1269.69,696.15L1286.71,698.30M1286.01,703.66A473.84,473.84 0 0 0 1287.36,692.92M1286.01,703.66L1303.01,706.01M1287.36,692.92L1304.41,694.88M1271.38,680.59L1305.56,683.72M1255.41,664.01L1289.67,665.96M1289.33,671.36A473.84,473.84 0 0 0 1289.95,660.55M1289.33,671.36L1306.45,672.54M1289.95,660.55L1307.09,661.34M1238.85,648.57L1307.47,650.12M998.72,638.97L1307.60,638.91" fill="none" stroke="currentColor" stroke-width="1.15"/></defs>
<use href="#tr" clip-path="url(#cb)" style="color:#3f4f70"/>
<use href="#tr" clip-path="url(#cp)" style="color:#67544a"/>
<use href="#tr" clip-path="url(#ct)" style="color:#5a4030"/>
<path d="M1233.66,382.97a1.9,1.9 0 1 0 3.8,0a1.9,1.9 0 1 0 -3.8,0M1227.70,373.47a1.9,1.9 0 1 0 3.8,0a1.9,1.9 0 1 0 -3.8,0M1221.53,364.10a1.9,1.9 0 1 0 3.8,0a1.9,1.9 0 1 0 -3.8,0M1215.14,354.88a1.9,1.9 0 1 0 3.8,0a1.9,1.9 0 1 0 -3.8,0M1208.55,345.80a1.9,1.9 0 1 0 3.8,0a1.9,1.9 0 1 0 -3.8,0M1201.75,336.88a1.9,1.9 0 1 0 3.8,0a1.9,1.9 0 1 0 -3.8,0M1194.74,328.12a1.9,1.9 0 1 0 3.8,0a1.9,1.9 0 1 0 -3.8,0M1187.54,319.52a1.9,1.9 0 1 0 3.8,0a1.9,1.9 0 1 0 -3.8,0M1180.15,311.08a1.9,1.9 0 1 0 3.8,0a1.9,1.9 0 1 0 -3.8,0M1172.56,302.82a1.9,1.9 0 1 0 3.8,0a1.9,1.9 0 1 0 -3.8,0M1164.79,294.73a1.9,1.9 0 1 0 3.8,0a1.9,1.9 0 1 0 -3.8,0M1156.83,286.82a1.9,1.9 0 1 0 3.8,0a1.9,1.9 0 1 0 -3.8,0M1148.69,279.10a1.9,1.9 0 1 0 3.8,0a1.9,1.9 0 1 0 -3.8,0M1140.38,271.56a1.9,1.9 0 1 0 3.8,0a1.9,1.9 0 1 0 -3.8,0M1131.91,264.22a1.9,1.9 0 1 0 3.8,0a1.9,1.9 0 1 0 -3.8,0M1123.26,257.07a1.9,1.9 0 1 0 3.8,0a1.9,1.9 0 1 0 -3.8,0M1114.45,250.12a1.9,1.9 0 1 0 3.8,0a1.9,1.9 0 1 0 -3.8,0M1105.49,243.37a1.9,1.9 0 1 0 3.8,0a1.9,1.9 0 1 0 -3.8,0M1096.38,236.83a1.9,1.9 0 1 0 3.8,0a1.9,1.9 0 1 0 -3.8,0M1087.12,230.50a1.9,1.9 0 1 0 3.8,0a1.9,1.9 0 1 0 -3.8,0M1077.71,224.38a1.9,1.9 0 1 0 3.8,0a1.9,1.9 0 1 0 -3.8,0M1068.17,218.48a1.9,1.9 0 1 0 3.8,0a1.9,1.9 0 1 0 -3.8,0M1058.50,212.80a1.9,1.9 0 1 0 3.8,0a1.9,1.9 0 1 0 -3.8,0M1048.70,207.34a1.9,1.9 0 1 0 3.8,0a1.9,1.9 0 1 0 -3.8,0M1038.77,202.11a1.9,1.9 0 1 0 3.8,0a1.9,1.9 0 1 0 -3.8,0M1028.74,197.11a1.9,1.9 0 1 0 3.8,0a1.9,1.9 0 1 0 -3.8,0M1018.58,192.33a1.9,1.9 0 1 0 3.8,0a1.9,1.9 0 1 0 -3.8,0M1008.33,187.79a1.9,1.9 0 1 0 3.8,0a1.9,1.9 0 1 0 -3.8,0M997.97,183.48a1.9,1.9 0 1 0 3.8,0a1.9,1.9 0 1 0 -3.8,0M987.51,179.42a1.9,1.9 0 1 0 3.8,0a1.9,1.9 0 1 0 -3.8,0M976.97,175.59a1.9,1.9 0 1 0 3.8,0a1.9,1.9 0 1 0 -3.8,0M966.34,172.00a1.9,1.9 0 1 0 3.8,0a1.9,1.9 0 1 0 -3.8,0M955.63,168.66a1.9,1.9 0 1 0 3.8,0a1.9,1.9 0 1 0 -3.8,0M944.85,165.56a1.9,1.9 0 1 0 3.8,0a1.9,1.9 0 1 0 -3.8,0M934.00,162.71a1.9,1.9 0 1 0 3.8,0a1.9,1.9 0 1 0 -3.8,0M923.09,160.11a1.9,1.9 0 1 0 3.8,0a1.9,1.9 0 1 0 -3.8,0M912.12,157.76a1.9,1.9 0 1 0 3.8,0a1.9,1.9 0 1 0 -3.8,0M901.10,155.66a1.9,1.9 0 1 0 3.8,0a1.9,1.9 0 1 0 -3.8,0M890.03,153.81a1.9,1.9 0 1 0 3.8,0a1.9,1.9 0 1 0 -3.8,0M878.93,152.22a1.9,1.9 0 1 0 3.8,0a1.9,1.9 0 1 0 -3.8,0M867.79,150.88a1.9,1.9 0 1 0 3.8,0a1.9,1.9 0 1 0 -3.8,0M856.62,149.79a1.9,1.9 0 1 0 3.8,0a1.9,1.9 0 1 0 -3.8,0M845.44,148.96a1.9,1.9 0 1 0 3.8,0a1.9,1.9 0 1 0 -3.8,0M834.23,148.39a1.9,1.9 0 1 0 3.8,0a1.9,1.9 0 1 0 -3.8,0M823.02,148.07a1.9,1.9 0 1 0 3.8,0a1.9,1.9 0 1 0 -3.8,0M811.80,148.01a1.9,1.9 0 1 0 3.8,0a1.9,1.9 0 1 0 -3.8,0M800.59,148.20a1.9,1.9 0 1 0 3.8,0a1.9,1.9 0 1 0 -3.8,0M789.38,148.65a1.9,1.9 0 1 0 3.8,0a1.9,1.9 0 1 0 -3.8,0M778.18,149.36a1.9,1.9 0 1 0 3.8,0a1.9,1.9 0 1 0 -3.8,0M767.00,150.32a1.9,1.9 0 1 0 3.8,0a1.9,1.9 0 1 0 -3.8,0M755.85,151.54a1.9,1.9 0 1 0 3.8,0a1.9,1.9 0 1 0 -3.8,0M744.73,153.01a1.9,1.9 0 1 0 3.8,0a1.9,1.9 0 1 0 -3.8,0M733.65,154.74a1.9,1.9 0 1 0 3.8,0a1.9,1.9 0 1 0 -3.8,0M722.60,156.71a1.9,1.9 0 1 0 3.8,0a1.9,1.9 0 1 0 -3.8,0M711.61,158.94a1.9,1.9 0 1 0 3.8,0a1.9,1.9 0 1 0 -3.8,0M700.67,161.42a1.9,1.9 0 1 0 3.8,0a1.9,1.9 0 1 0 -3.8,0M689.79,164.15a1.9,1.9 0 1 0 3.8,0a1.9,1.9 0 1 0 -3.8,0M678.97,167.13a1.9,1.9 0 1 0 3.8,0a1.9,1.9 0 1 0 -3.8,0M668.23,170.36a1.9,1.9 0 1 0 3.8,0a1.9,1.9 0 1 0 -3.8,0M657.56,173.82a1.9,1.9 0 1 0 3.8,0a1.9,1.9 0 1 0 -3.8,0M646.97,177.54a1.9,1.9 0 1 0 3.8,0a1.9,1.9 0 1 0 -3.8,0M636.47,181.49a1.9,1.9 0 1 0 3.8,0a1.9,1.9 0 1 0 -3.8,0M626.07,185.68a1.9,1.9 0 1 0 3.8,0a1.9,1.9 0 1 0 -3.8,0M615.76,190.11a1.9,1.9 0 1 0 3.8,0a1.9,1.9 0 1 0 -3.8,0M605.56,194.77a1.9,1.9 0 1 0 3.8,0a1.9,1.9 0 1 0 -3.8,0M595.46,199.66a1.9,1.9 0 1 0 3.8,0a1.9,1.9 0 1 0 -3.8,0M585.48,204.79a1.9,1.9 0 1 0 3.8,0a1.9,1.9 0 1 0 -3.8,0M575.62,210.14a1.9,1.9 0 1 0 3.8,0a1.9,1.9 0 1 0 -3.8,0M565.89,215.71a1.9,1.9 0 1 0 3.8,0a1.9,1.9 0 1 0 -3.8,0M556.28,221.51a1.9,1.9 0 1 0 3.8,0a1.9,1.9 0 1 0 -3.8,0M546.81,227.52a1.9,1.9 0 1 0 3.8,0a1.9,1.9 0 1 0 -3.8,0M537.48,233.75a1.9,1.9 0 1 0 3.8,0a1.9,1.9 0 1 0 -3.8,0M528.30,240.19a1.9,1.9 0 1 0 3.8,0a1.9,1.9 0 1 0 -3.8,0M519.26,246.83a1.9,1.9 0 1 0 3.8,0a1.9,1.9 0 1 0 -3.8,0M510.38,253.68a1.9,1.9 0 1 0 3.8,0a1.9,1.9 0 1 0 -3.8,0M501.65,260.74a1.9,1.9 0 1 0 3.8,0a1.9,1.9 0 1 0 -3.8,0M493.09,267.99a1.9,1.9 0 1 0 3.8,0a1.9,1.9 0 1 0 -3.8,0M484.70,275.43a1.9,1.9 0 1 0 3.8,0a1.9,1.9 0 1 0 -3.8,0M476.48,283.07a1.9,1.9 0 1 0 3.8,0a1.9,1.9 0 1 0 -3.8,0M468.44,290.89a1.9,1.9 0 1 0 3.8,0a1.9,1.9 0 1 0 -3.8,0M460.57,298.89a1.9,1.9 0 1 0 3.8,0a1.9,1.9 0 1 0 -3.8,0M452.90,307.07a1.9,1.9 0 1 0 3.8,0a1.9,1.9 0 1 0 -3.8,0M445.41,315.42a1.9,1.9 0 1 0 3.8,0a1.9,1.9 0 1 0 -3.8,0M438.11,323.94a1.9,1.9 0 1 0 3.8,0a1.9,1.9 0 1 0 -3.8,0M431.01,332.63a1.9,1.9 0 1 0 3.8,0a1.9,1.9 0 1 0 -3.8,0M424.11,341.47a1.9,1.9 0 1 0 3.8,0a1.9,1.9 0 1 0 -3.8,0M417.42,350.47a1.9,1.9 0 1 0 3.8,0a1.9,1.9 0 1 0 -3.8,0M410.93,359.62a1.9,1.9 0 1 0 3.8,0a1.9,1.9 0 1 0 -3.8,0M404.65,368.92a1.9,1.9 0 1 0 3.8,0a1.9,1.9 0 1 0 -3.8,0M398.59,378.36a1.9,1.9 0 1 0 3.8,0a1.9,1.9 0 1 0 -3.8,0M392.74,387.94a1.9,1.9 0 1 0 3.8,0a1.9,1.9 0 1 0 -3.8,0M387.12,397.64a1.9,1.9 0 1 0 3.8,0a1.9,1.9 0 1 0 -3.8,0M381.72,407.47a1.9,1.9 0 1 0 3.8,0a1.9,1.9 0 1 0 -3.8,0M376.54,417.42a1.9,1.9 0 1 0 3.8,0a1.9,1.9 0 1 0 -3.8,0M371.59,427.49a1.9,1.9 0 1 0 3.8,0a1.9,1.9 0 1 0 -3.8,0M366.87,437.67a1.9,1.9 0 1 0 3.8,0a1.9,1.9 0 1 0 -3.8,0M362.39,447.95a1.9,1.9 0 1 0 3.8,0a1.9,1.9 0 1 0 -3.8,0M358.15,458.34a1.9,1.9 0 1 0 3.8,0a1.9,1.9 0 1 0 -3.8,0M354.14,468.82a1.9,1.9 0 1 0 3.8,0a1.9,1.9 0 1 0 -3.8,0M350.37,479.38a1.9,1.9 0 1 0 3.8,0a1.9,1.9 0 1 0 -3.8,0M346.84,490.03a1.9,1.9 0 1 0 3.8,0a1.9,1.9 0 1 0 -3.8,0M343.56,500.76a1.9,1.9 0 1 0 3.8,0a1.9,1.9 0 1 0 -3.8,0M340.53,511.56a1.9,1.9 0 1 0 3.8,0a1.9,1.9 0 1 0 -3.8,0M337.74,522.42a1.9,1.9 0 1 0 3.8,0a1.9,1.9 0 1 0 -3.8,0M335.20,533.35a1.9,1.9 0 1 0 3.8,0a1.9,1.9 0 1 0 -3.8,0M332.91,544.33a1.9,1.9 0 1 0 3.8,0a1.9,1.9 0 1 0 -3.8,0M330.88,555.37a1.9,1.9 0 1 0 3.8,0a1.9,1.9 0 1 0 -3.8,0M329.09,566.44a1.9,1.9 0 1 0 3.8,0a1.9,1.9 0 1 0 -3.8,0M327.56,577.55a1.9,1.9 0 1 0 3.8,0a1.9,1.9 0 1 0 -3.8,0M326.28,588.70a1.9,1.9 0 1 0 3.8,0a1.9,1.9 0 1 0 -3.8,0M325.26,599.87a1.9,1.9 0 1 0 3.8,0a1.9,1.9 0 1 0 -3.8,0M324.50,611.06a1.9,1.9 0 1 0 3.8,0a1.9,1.9 0 1 0 -3.8,0M323.99,622.27a1.9,1.9 0 1 0 3.8,0a1.9,1.9 0 1 0 -3.8,0M323.73,633.48a1.9,1.9 0 1 0 3.8,0a1.9,1.9 0 1 0 -3.8,0M323.73,644.70a1.9,1.9 0 1 0 3.8,0a1.9,1.9 0 1 0 -3.8,0M323.99,655.92a1.9,1.9 0 1 0 3.8,0a1.9,1.9 0 1 0 -3.8,0M324.51,667.12a1.9,1.9 0 1 0 3.8,0a1.9,1.9 0 1 0 -3.8,0M325.28,678.32a1.9,1.9 0 1 0 3.8,0a1.9,1.9 0 1 0 -3.8,0M326.30,689.49a1.9,1.9 0 1 0 3.8,0a1.9,1.9 0 1 0 -3.8,0M327.58,700.63a1.9,1.9 0 1 0 3.8,0a1.9,1.9 0 1 0 -3.8,0M329.12,711.74a1.9,1.9 0 1 0 3.8,0a1.9,1.9 0 1 0 -3.8,0M330.91,722.82a1.9,1.9 0 1 0 3.8,0a1.9,1.9 0 1 0 -3.8,0M332.95,733.85a1.9,1.9 0 1 0 3.8,0a1.9,1.9 0 1 0 -3.8,0M335.24,744.83a1.9,1.9 0 1 0 3.8,0a1.9,1.9 0 1 0 -3.8,0M337.78,755.76a1.9,1.9 0 1 0 3.8,0a1.9,1.9 0 1 0 -3.8,0M340.58,766.62a1.9,1.9 0 1 0 3.8,0a1.9,1.9 0 1 0 -3.8,0M343.62,777.42a1.9,1.9 0 1 0 3.8,0a1.9,1.9 0 1 0 -3.8,0M346.90,788.15a1.9,1.9 0 1 0 3.8,0a1.9,1.9 0 1 0 -3.8,0M350.43,798.80a1.9,1.9 0 1 0 3.8,0a1.9,1.9 0 1 0 -3.8,0M354.20,809.36a1.9,1.9 0 1 0 3.8,0a1.9,1.9 0 1 0 -3.8,0M358.21,819.84a1.9,1.9 0 1 0 3.8,0a1.9,1.9 0 1 0 -3.8,0M362.46,830.22a1.9,1.9 0 1 0 3.8,0a1.9,1.9 0 1 0 -3.8,0M366.95,840.50a1.9,1.9 0 1 0 3.8,0a1.9,1.9 0 1 0 -3.8,0M371.67,850.68a1.9,1.9 0 1 0 3.8,0a1.9,1.9 0 1 0 -3.8,0M376.62,860.74a1.9,1.9 0 1 0 3.8,0a1.9,1.9 0 1 0 -3.8,0M381.80,870.69a1.9,1.9 0 1 0 3.8,0a1.9,1.9 0 1 0 -3.8,0M387.21,880.52a1.9,1.9 0 1 0 3.8,0a1.9,1.9 0 1 0 -3.8,0M392.84,890.23a1.9,1.9 0 1 0 3.8,0a1.9,1.9 0 1 0 -3.8,0M398.69,899.80a1.9,1.9 0 1 0 3.8,0a1.9,1.9 0 1 0 -3.8,0M404.76,909.23a1.9,1.9 0 1 0 3.8,0a1.9,1.9 0 1 0 -3.8,0M411.04,918.53a1.9,1.9 0 1 0 3.8,0a1.9,1.9 0 1 0 -3.8,0" fill="#0f1a2e"/>
<path d="M417.53,927.68a1.9,1.9 0 1 0 3.8,0a1.9,1.9 0 1 0 -3.8,0M424.23,936.68a1.9,1.9 0 1 0 3.8,0a1.9,1.9 0 1 0 -3.8,0M431.13,945.52a1.9,1.9 0 1 0 3.8,0a1.9,1.9 0 1 0 -3.8,0M438.23,954.20a1.9,1.9 0 1 0 3.8,0a1.9,1.9 0 1 0 -3.8,0M445.53,962.72a1.9,1.9 0 1 0 3.8,0a1.9,1.9 0 1 0 -3.8,0M453.02,971.07a1.9,1.9 0 1 0 3.8,0a1.9,1.9 0 1 0 -3.8,0M460.70,979.25a1.9,1.9 0 1 0 3.8,0a1.9,1.9 0 1 0 -3.8,0M468.57,987.25a1.9,1.9 0 1 0 3.8,0a1.9,1.9 0 1 0 -3.8,0M476.62,995.06a1.9,1.9 0 1 0 3.8,0a1.9,1.9 0 1 0 -3.8,0M484.84,1002.69a1.9,1.9 0 1 0 3.8,0a1.9,1.9 0 1 0 -3.8,0M493.23,1010.13a1.9,1.9 0 1 0 3.8,0a1.9,1.9 0 1 0 -3.8,0M501.80,1017.38a1.9,1.9 0 1 0 3.8,0a1.9,1.9 0 1 0 -3.8,0M510.52,1024.43a1.9,1.9 0 1 0 3.8,0a1.9,1.9 0 1 0 -3.8,0M519.41,1031.28a1.9,1.9 0 1 0 3.8,0a1.9,1.9 0 1 0 -3.8,0M528.45,1037.92a1.9,1.9 0 1 0 3.8,0a1.9,1.9 0 1 0 -3.8,0M537.64,1044.36a1.9,1.9 0 1 0 3.8,0a1.9,1.9 0 1 0 -3.8,0M546.97,1050.58a1.9,1.9 0 1 0 3.8,0a1.9,1.9 0 1 0 -3.8,0M556.44,1056.59a1.9,1.9 0 1 0 3.8,0a1.9,1.9 0 1 0 -3.8,0M566.05,1062.38a1.9,1.9 0 1 0 3.8,0a1.9,1.9 0 1 0 -3.8,0M575.79,1067.95a1.9,1.9 0 1 0 3.8,0a1.9,1.9 0 1 0 -3.8,0M585.65,1073.30a1.9,1.9 0 1 0 3.8,0a1.9,1.9 0 1 0 -3.8,0M595.63,1078.42a1.9,1.9 0 1 0 3.8,0a1.9,1.9 0 1 0 -3.8,0M605.73,1083.31a1.9,1.9 0 1 0 3.8,0a1.9,1.9 0 1 0 -3.8,0M615.93,1087.97a1.9,1.9 0 1 0 3.8,0a1.9,1.9 0 1 0 -3.8,0M626.24,1092.39a1.9,1.9 0 1 0 3.8,0a1.9,1.9 0 1 0 -3.8,0M636.65,1096.58a1.9,1.9 0 1 0 3.8,0a1.9,1.9 0 1 0 -3.8,0M647.15,1100.53a1.9,1.9 0 1 0 3.8,0a1.9,1.9 0 1 0 -3.8,0M657.74,1104.23a1.9,1.9 0 1 0 3.8,0a1.9,1.9 0 1 0 -3.8,0M668.41,1107.70a1.9,1.9 0 1 0 3.8,0a1.9,1.9 0 1 0 -3.8,0M679.15,1110.92a1.9,1.9 0 1 0 3.8,0a1.9,1.9 0 1 0 -3.8,0M689.97,1113.89a1.9,1.9 0 1 0 3.8,0a1.9,1.9 0 1 0 -3.8,0M700.85,1116.62a1.9,1.9 0 1 0 3.8,0a1.9,1.9 0 1 0 -3.8,0M711.79,1119.09a1.9,1.9 0 1 0 3.8,0a1.9,1.9 0 1 0 -3.8,0M722.79,1121.32a1.9,1.9 0 1 0 3.8,0a1.9,1.9 0 1 0 -3.8,0M733.83,1123.29a1.9,1.9 0 1 0 3.8,0a1.9,1.9 0 1 0 -3.8,0M744.92,1125.02a1.9,1.9 0 1 0 3.8,0a1.9,1.9 0 1 0 -3.8,0M756.04,1126.48a1.9,1.9 0 1 0 3.8,0a1.9,1.9 0 1 0 -3.8,0M767.19,1127.70a1.9,1.9 0 1 0 3.8,0a1.9,1.9 0 1 0 -3.8,0M778.37,1128.65a1.9,1.9 0 1 0 3.8,0a1.9,1.9 0 1 0 -3.8,0M789.56,1129.36a1.9,1.9 0 1 0 3.8,0a1.9,1.9 0 1 0 -3.8,0M800.77,1129.80a1.9,1.9 0 1 0 3.8,0a1.9,1.9 0 1 0 -3.8,0M811.99,1129.99a1.9,1.9 0 1 0 3.8,0a1.9,1.9 0 1 0 -3.8,0M823.21,1129.93a1.9,1.9 0 1 0 3.8,0a1.9,1.9 0 1 0 -3.8,0M834.42,1129.60a1.9,1.9 0 1 0 3.8,0a1.9,1.9 0 1 0 -3.8,0M845.62,1129.03a1.9,1.9 0 1 0 3.8,0a1.9,1.9 0 1 0 -3.8,0M856.81,1128.19a1.9,1.9 0 1 0 3.8,0a1.9,1.9 0 1 0 -3.8,0M867.98,1127.10a1.9,1.9 0 1 0 3.8,0a1.9,1.9 0 1 0 -3.8,0M879.11,1125.76a1.9,1.9 0 1 0 3.8,0a1.9,1.9 0 1 0 -3.8,0M890.22,1124.16a1.9,1.9 0 1 0 3.8,0a1.9,1.9 0 1 0 -3.8,0M901.28,1122.31a1.9,1.9 0 1 0 3.8,0a1.9,1.9 0 1 0 -3.8,0M912.30,1120.20a1.9,1.9 0 1 0 3.8,0a1.9,1.9 0 1 0 -3.8,0M923.27,1117.85a1.9,1.9 0 1 0 3.8,0a1.9,1.9 0 1 0 -3.8,0M934.18,1115.24a1.9,1.9 0 1 0 3.8,0a1.9,1.9 0 1 0 -3.8,0M945.03,1112.39a1.9,1.9 0 1 0 3.8,0a1.9,1.9 0 1 0 -3.8,0M955.81,1109.29a1.9,1.9 0 1 0 3.8,0a1.9,1.9 0 1 0 -3.8,0M966.52,1105.94a1.9,1.9 0 1 0 3.8,0a1.9,1.9 0 1 0 -3.8,0M977.14,1102.35a1.9,1.9 0 1 0 3.8,0a1.9,1.9 0 1 0 -3.8,0M987.69,1098.52a1.9,1.9 0 1 0 3.8,0a1.9,1.9 0 1 0 -3.8,0M998.14,1094.45a1.9,1.9 0 1 0 3.8,0a1.9,1.9 0 1 0 -3.8,0M1008.50,1090.14a1.9,1.9 0 1 0 3.8,0a1.9,1.9 0 1 0 -3.8,0M1018.75,1085.59a1.9,1.9 0 1 0 3.8,0a1.9,1.9 0 1 0 -3.8,0M1028.90,1080.81a1.9,1.9 0 1 0 3.8,0a1.9,1.9 0 1 0 -3.8,0M1038.94,1075.80a1.9,1.9 0 1 0 3.8,0a1.9,1.9 0 1 0 -3.8,0M1048.86,1070.57a1.9,1.9 0 1 0 3.8,0a1.9,1.9 0 1 0 -3.8,0M1058.66,1065.10a1.9,1.9 0 1 0 3.8,0a1.9,1.9 0 1 0 -3.8,0M1068.33,1059.42a1.9,1.9 0 1 0 3.8,0a1.9,1.9 0 1 0 -3.8,0M1077.87,1053.51a1.9,1.9 0 1 0 3.8,0a1.9,1.9 0 1 0 -3.8,0M1087.27,1047.39a1.9,1.9 0 1 0 3.8,0a1.9,1.9 0 1 0 -3.8,0M1096.53,1041.06a1.9,1.9 0 1 0 3.8,0a1.9,1.9 0 1 0 -3.8,0M1105.64,1034.52a1.9,1.9 0 1 0 3.8,0a1.9,1.9 0 1 0 -3.8,0M1114.60,1027.77a1.9,1.9 0 1 0 3.8,0a1.9,1.9 0 1 0 -3.8,0M1123.41,1020.81a1.9,1.9 0 1 0 3.8,0a1.9,1.9 0 1 0 -3.8,0M1132.05,1013.66a1.9,1.9 0 1 0 3.8,0a1.9,1.9 0 1 0 -3.8,0M1140.52,1006.31a1.9,1.9 0 1 0 3.8,0a1.9,1.9 0 1 0 -3.8,0M1148.83,998.77a1.9,1.9 0 1 0 3.8,0a1.9,1.9 0 1 0 -3.8,0M1156.96,991.05a1.9,1.9 0 1 0 3.8,0a1.9,1.9 0 1 0 -3.8,0M1164.92,983.14a1.9,1.9 0 1 0 3.8,0a1.9,1.9 0 1 0 -3.8,0M1172.69,975.04a1.9,1.9 0 1 0 3.8,0a1.9,1.9 0 1 0 -3.8,0M1180.27,966.78a1.9,1.9 0 1 0 3.8,0a1.9,1.9 0 1 0 -3.8,0M1187.66,958.34a1.9,1.9 0 1 0 3.8,0a1.9,1.9 0 1 0 -3.8,0M1194.86,949.74a1.9,1.9 0 1 0 3.8,0a1.9,1.9 0 1 0 -3.8,0M1201.86,940.97a1.9,1.9 0 1 0 3.8,0a1.9,1.9 0 1 0 -3.8,0M1208.66,932.05a1.9,1.9 0 1 0 3.8,0a1.9,1.9 0 1 0 -3.8,0M1215.25,922.97a1.9,1.9 0 1 0 3.8,0a1.9,1.9 0 1 0 -3.8,0M1221.64,913.74a1.9,1.9 0 1 0 3.8,0a1.9,1.9 0 1 0 -3.8,0M1227.81,904.38a1.9,1.9 0 1 0 3.8,0a1.9,1.9 0 1 0 -3.8,0M1233.76,894.87a1.9,1.9 0 1 0 3.8,0a1.9,1.9 0 1 0 -3.8,0M1239.50,885.23a1.9,1.9 0 1 0 3.8,0a1.9,1.9 0 1 0 -3.8,0M1245.01,875.46a1.9,1.9 0 1 0 3.8,0a1.9,1.9 0 1 0 -3.8,0M1250.30,865.57a1.9,1.9 0 1 0 3.8,0a1.9,1.9 0 1 0 -3.8,0M1255.36,855.56a1.9,1.9 0 1 0 3.8,0a1.9,1.9 0 1 0 -3.8,0M1260.20,845.43a1.9,1.9 0 1 0 3.8,0a1.9,1.9 0 1 0 -3.8,0M1264.80,835.20a1.9,1.9 0 1 0 3.8,0a1.9,1.9 0 1 0 -3.8,0M1269.16,824.87a1.9,1.9 0 1 0 3.8,0a1.9,1.9 0 1 0 -3.8,0M1273.29,814.43a1.9,1.9 0 1 0 3.8,0a1.9,1.9 0 1 0 -3.8,0M1277.18,803.91a1.9,1.9 0 1 0 3.8,0a1.9,1.9 0 1 0 -3.8,0M1280.82,793.30a1.9,1.9 0 1 0 3.8,0a1.9,1.9 0 1 0 -3.8,0M1284.23,782.61a1.9,1.9 0 1 0 3.8,0a1.9,1.9 0 1 0 -3.8,0M1287.39,771.85a1.9,1.9 0 1 0 3.8,0a1.9,1.9 0 1 0 -3.8,0M1290.30,761.02a1.9,1.9 0 1 0 3.8,0a1.9,1.9 0 1 0 -3.8,0M1292.96,750.12a1.9,1.9 0 1 0 3.8,0a1.9,1.9 0 1 0 -3.8,0M1295.37,739.16a1.9,1.9 0 1 0 3.8,0a1.9,1.9 0 1 0 -3.8,0M1297.54,728.16a1.9,1.9 0 1 0 3.8,0a1.9,1.9 0 1 0 -3.8,0M1299.45,717.10a1.9,1.9 0 1 0 3.8,0a1.9,1.9 0 1 0 -3.8,0M1301.11,706.01a1.9,1.9 0 1 0 3.8,0a1.9,1.9 0 1 0 -3.8,0M1302.51,694.88a1.9,1.9 0 1 0 3.8,0a1.9,1.9 0 1 0 -3.8,0M1303.66,683.72a1.9,1.9 0 1 0 3.8,0a1.9,1.9 0 1 0 -3.8,0M1304.55,672.54a1.9,1.9 0 1 0 3.8,0a1.9,1.9 0 1 0 -3.8,0M1305.19,661.34a1.9,1.9 0 1 0 3.8,0a1.9,1.9 0 1 0 -3.8,0M1305.57,650.12a1.9,1.9 0 1 0 3.8,0a1.9,1.9 0 1 0 -3.8,0M1305.70,638.91a1.9,1.9 0 1 0 3.8,0a1.9,1.9 0 1 0 -3.8,0" fill="#3a2418"/>
<path d="M1305.57,627.69a1.9,1.9 0 1 0 3.8,0a1.9,1.9 0 1 0 -3.8,0M1305.18,616.48a1.9,1.9 0 1 0 3.8,0a1.9,1.9 0 1 0 -3.8,0M1304.54,605.28a1.9,1.9 0 1 0 3.8,0a1.9,1.9 0 1 0 -3.8,0M1303.64,594.10a1.9,1.9 0 1 0 3.8,0a1.9,1.9 0 1 0 -3.8,0M1302.49,582.94a1.9,1.9 0 1 0 3.8,0a1.9,1.9 0 1 0 -3.8,0M1301.08,571.81a1.9,1.9 0 1 0 3.8,0a1.9,1.9 0 1 0 -3.8,0M1299.42,560.71a1.9,1.9 0 1 0 3.8,0a1.9,1.9 0 1 0 -3.8,0M1297.50,549.66a1.9,1.9 0 1 0 3.8,0a1.9,1.9 0 1 0 -3.8,0M1295.34,538.65a1.9,1.9 0 1 0 3.8,0a1.9,1.9 0 1 0 -3.8,0M1292.92,527.70a1.9,1.9 0 1 0 3.8,0a1.9,1.9 0 1 0 -3.8,0M1290.25,516.80a1.9,1.9 0 1 0 3.8,0a1.9,1.9 0 1 0 -3.8,0M1287.34,505.97a1.9,1.9 0 1 0 3.8,0a1.9,1.9 0 1 0 -3.8,0M1284.17,495.21a1.9,1.9 0 1 0 3.8,0a1.9,1.9 0 1 0 -3.8,0M1280.77,484.52a1.9,1.9 0 1 0 3.8,0a1.9,1.9 0 1 0 -3.8,0M1277.11,473.91a1.9,1.9 0 1 0 3.8,0a1.9,1.9 0 1 0 -3.8,0M1273.22,463.39a1.9,1.9 0 1 0 3.8,0a1.9,1.9 0 1 0 -3.8,0M1269.09,452.96a1.9,1.9 0 1 0 3.8,0a1.9,1.9 0 1 0 -3.8,0M1264.72,442.63a1.9,1.9 0 1 0 3.8,0a1.9,1.9 0 1 0 -3.8,0M1260.12,432.40a1.9,1.9 0 1 0 3.8,0a1.9,1.9 0 1 0 -3.8,0M1255.28,422.28a1.9,1.9 0 1 0 3.8,0a1.9,1.9 0 1 0 -3.8,0M1250.22,412.27a1.9,1.9 0 1 0 3.8,0a1.9,1.9 0 1 0 -3.8,0M1244.92,402.38a1.9,1.9 0 1 0 3.8,0a1.9,1.9 0 1 0 -3.8,0M1239.40,392.61a1.9,1.9 0 1 0 3.8,0a1.9,1.9 0 1 0 -3.8,0" fill="#1e0f06"/>
<g fill="none" stroke="#2F5597"><path d="M1237.71,385.21A493.1,493.1 0 1 0 411.93,922.95M411.93,922.95A493.1,493.1 0 0 0 1307.31,631.68" stroke-width="2.5"/><path d="M1305.91,631.70A491.7,491.7 0 0 0 1236.51,385.93" stroke-width="2.3"/><path d="M812.86,639.23L1235.87,384.86M814.14,641.37L1238.35,386.28" stroke-width="2.0"/><path d="M813.50,640.30L411.93,922.95" stroke-width="3.9"/><path d="M813.50,640.30L1305.91,631.70" stroke-width="2.4"/></g>
<g font-family="Liberation Sans, sans-serif" font-size="10.6" fill="#202020" stroke="#202020" stroke-width="0.12"><text transform="translate(816.60,639.00) rotate(-1.320) translate(499.2,3.9)" textLength="113.3" lengthAdjust="spacingAndGlyphs">ISMma5_IS110_IS1111</text><text transform="translate(816.60,639.00) rotate(-2.629) translate(499.2,3.9)" textLength="115.4" lengthAdjust="spacingAndGlyphs">ISMac14_IS110_IS1111</text><text transform="translate(816.60,639.00) rotate(-3.938) translate(499.2,3.9)" textLength="76.5" lengthAdjust="spacingAndGlyphs">ISMba20_IS110</text><text transform="translate(816.60,639.00) rotate(-5.247) translate(499.2,3.9)" textLength="70.1" lengthAdjust="spacingAndGlyphs">ISMba7_IS110</text><text transform="translate(816.60,639.00) rotate(-6.556) translate(499.2,3.9)" textLength="67.8" lengthAdjust="spacingAndGlyphs">ISPpu9_IS110</text><text transform="translate(816.60,639.00) rotate(-7.865) translate(499.2,3.9)" textLength="72.6" lengthAdjust="spacingAndGlyphs">ISPsy35_IS110</text><text transform="translate(816.60,639.00) rotate(-9.175) translate(499.2,3.9)" textLength="74.4" lengthAdjust="spacingAndGlyphs">ISWpi13_IS110</text><text transform="translate(816.60,639.00) rotate(-10.484) translate(499.2,3.9)" textLength="83.7" lengthAdjust="spacingAndGlyphs">ISCARN20_IS110</text><text transform="translate(816.60,639.00) rotate(-11.793) translate(499.2,3.9)" textLength="73.6" lengthAdjust="spacingAndGlyphs">ISAzo22_IS110</text><text transform="translate(816.60,639.00) rotate(-13.102) translate(499.2,3.9)" textLength="73.6" lengthAdjust="spacingAndGlyphs">ISAzo28_IS110</text><text transform="translate(816.60,639.00) rotate(-14.411) translate(499.2,3.9)" textLength="71.6" lengthAdjust="spacingAndGlyphs">ISArsp3_IS110</text><text transform="translate(816.60,639.00) rotate(-15.720) translate(499.2,3.9)" textLength="67.4" lengthAdjust="spacingAndGlyphs">ISCsa3_IS110</text><text transform="translate(816.60,639.00) rotate(-17.029) translate(499.2,3.9)" textLength="68.7" lengthAdjust="spacingAndGlyphs">ISGka2_IS110</text><text transform="translate(816.60,639.00) rotate(-18.338) translate(499.2,3.9)" textLength="70.2" lengthAdjust="spacingAndGlyphs">ISAisp4_IS110</text><text transform="translate(816.60,639.00) rotate(-19.647) translate(499.2,3.9)" textLength="83.7" lengthAdjust="spacingAndGlyphs">ISCARN97_IS110</text><text transform="translate(816.60,639.00) rotate(-20.956) translate(499.2,3.9)" textLength="65.6" lengthAdjust="spacingAndGlyphs">ISAfe3_IS110</text><text transform="translate(816.60,639.00) rotate(-22.265) translate(499.2,3.9)" textLength="109.1" lengthAdjust="spacingAndGlyphs">ISShfr7_IS110_IS1111</text><text transform="translate(816.60,639.00) rotate(-23.575) translate(499.2,3.9)" textLength="115.8" lengthAdjust="spacingAndGlyphs">ISShwo5_IS110_IS1111</text><text transform="translate(816.60,639.00) rotate(-24.884) translate(499.2,3.9)" textLength="68.3" lengthAdjust="spacingAndGlyphs">ISGsu4_IS110</text><text transform="translate(816.60,639.00) rotate(-26.193) translate(499.2,3.9)" textLength="68.3" lengthAdjust="spacingAndGlyphs">ISGsu5_IS110</text><text transform="translate(816.60,639.00) rotate(-27.502) translate(499.2,3.9)" textLength="68.6" lengthAdjust="spacingAndGlyphs">ISHvo9_IS110</text><text transform="translate(816.60,639.00) rotate(-28.811) translate(499.2,3.9)" textLength="114.7" lengthAdjust="spacingAndGlyphs">ISHvo10_IS110_IS1111</text><text transform="translate(816.60,639.00) rotate(-30.120) translate(499.2,3.9)" textLength="102.7" lengthAdjust="spacingAndGlyphs">ISH18_IS110_IS1111</text><text transform="translate(816.60,639.00) rotate(-31.429) translate(499.2,3.9)" textLength="107.3" lengthAdjust="spacingAndGlyphs">ISCps1_IS110_IS1111</text><text transform="translate(816.60,639.00) rotate(-32.738) translate(499.2,3.9)" textLength="67.9" lengthAdjust="spacingAndGlyphs">ISSpe4_IS110</text><text transform="translate(816.60,639.00) rotate(-34.047) translate(499.2,3.9)" textLength="113.9" lengthAdjust="spacingAndGlyphs">ISPpu11_IS110_IS1111</text><text transform="translate(816.60,639.00) rotate(-35.356) translate(499.2,3.9)" textLength="107.3" lengthAdjust="spacingAndGlyphs">ISPa11_IS110_IS1111</text><text transform="translate(816.60,639.00) rotate(-36.665) translate(499.2,3.9)" textLength="109.6" lengthAdjust="spacingAndGlyphs">ISAzvi2_IS110_IS1111</text><text transform="translate(816.60,639.00) rotate(-37.975) translate(499.2,3.9)" textLength="106.0" lengthAdjust="spacingAndGlyphs">ISCro5_IS110_IS1111</text><text transform="translate(816.60,639.00) rotate(-39.284) translate(499.2,3.9)" textLength="114.0" lengthAdjust="spacingAndGlyphs">ISSde14_IS110_IS1111</text><text transform="translate(816.60,639.00) rotate(-40.593) translate(499.2,3.9)" textLength="112.8" lengthAdjust="spacingAndGlyphs">ISShes7_IS110_IS1111</text><text transform="translate(816.60,639.00) rotate(-41.902) translate(499.2,3.9)" textLength="104.0" lengthAdjust="spacingAndGlyphs">ISSlo1_IS110_IS1111</text><text transform="translate(816.60,639.00) rotate(-43.211) translate(499.2,3.9)" textLength="107.6" lengthAdjust="spacingAndGlyphs">ISSba8_IS110_IS1111</text><text transform="translate(816.60,639.00) rotate(-44.520) translate(499.2,3.9)" textLength="114.0" lengthAdjust="spacingAndGlyphs">ISSod21_IS110_IS1111</text><text transform="translate(816.60,639.00) rotate(-45.829) translate(499.2,3.9)" textLength="114.0" lengthAdjust="spacingAndGlyphs">ISSod14_IS110_IS1111</text><text transform="translate(816.60,639.00) rotate(-47.138) translate(499.2,3.9)" textLength="114.0" lengthAdjust="spacingAndGlyphs">ISSde11_IS110_IS1111</text><text transform="translate(816.60,639.00) rotate(-48.447) translate(499.2,3.9)" textLength="109.1" lengthAdjust="spacingAndGlyphs">ISShfr3_IS110_IS1111</text><text transform="translate(816.60,639.00) rotate(-49.756) translate(499.2,3.9)" textLength="108.0" lengthAdjust="spacingAndGlyphs">ISKpn2_IS110_IS1111</text><text transform="translate(816.60,639.00) rotate(-51.065) translate(499.2,3.9)" textLength="113.8" lengthAdjust="spacingAndGlyphs">ISSaen1_IS110_IS1111</text><text transform="translate(816.60,639.00) rotate(-52.375) translate(499.2,3.9)" textLength="107.6" lengthAdjust="spacingAndGlyphs">ISSde4_IS110_IS1111</text><text transform="translate(816.60,639.00) rotate(-53.684) translate(499.2,3.9)" textLength="107.6" lengthAdjust="spacingAndGlyphs">ISSpe2_IS110_IS1111</text><text transform="translate(816.60,639.00) rotate(-54.993) translate(499.2,3.9)" textLength="114.0" lengthAdjust="spacingAndGlyphs">ISSod19_IS110_IS1111</text><text transform="translate(816.60,639.00) rotate(-56.302) translate(499.2,3.9)" textLength="114.0" lengthAdjust="spacingAndGlyphs">ISSba19_IS110_IS1111</text><text transform="translate(816.60,639.00) rotate(-57.611) translate(499.2,3.9)" textLength="114.2" lengthAdjust="spacingAndGlyphs">ISSpu22_IS110_IS1111</text><text transform="translate(816.60,639.00) rotate(-58.920) translate(499.2,3.9)" textLength="105.3" lengthAdjust="spacingAndGlyphs">ISPpr8_IS110_IS1111</text><text transform="translate(816.60,639.00) rotate(-60.229) translate(499.2,3.9)" textLength="114.7" lengthAdjust="spacingAndGlyphs">IS1111B_IS110_IS1111</text><text transform="translate(816.60,639.00) rotate(-61.538) translate(499.2,3.9)" textLength="114.9" lengthAdjust="spacingAndGlyphs">IS1111C_IS110_IS1111</text><text transform="translate(816.60,639.00) rotate(-62.847) translate(499.2,3.9)" textLength="114.7" lengthAdjust="spacingAndGlyphs">IS1111A_IS110_IS1111</text><text transform="translate(816.60,639.00) rotate(-64.156) translate(499.2,3.9)" textLength="105.9" lengthAdjust="spacingAndGlyphs">ISAtu1_IS110_IS1111</text><text transform="translate(816.60,639.00) rotate(-65.465) translate(499.2,3.9)" textLength="112.9" lengthAdjust="spacingAndGlyphs">ISMtsp7_IS110_IS1111</text><text transform="translate(816.60,639.00) rotate(-66.775) translate(499.2,3.9)" textLength="106.5" lengthAdjust="spacingAndGlyphs">ISHar3_IS110_IS1111</text><text transform="translate(816.60,639.00) rotate(-68.084) translate(499.2,3.9)" textLength="106.9" lengthAdjust="spacingAndGlyphs">ISEch3_IS110_IS1111</text><text transform="translate(816.60,639.00) rotate(-69.393) translate(499.2,3.9)" textLength="107.4" lengthAdjust="spacingAndGlyphs">ISYen1_IS110_IS1111</text><text transform="translate(816.60,639.00) rotate(-70.702) translate(499.2,3.9)" textLength="104.7" lengthAdjust="spacingAndGlyphs">ISRle1_IS110_IS1111</text><text transform="translate(816.60,639.00) rotate(-72.011) translate(499.2,3.9)" textLength="104.7" lengthAdjust="spacingAndGlyphs">ISRel7_IS110_IS1111</text><text transform="translate(816.60,639.00) rotate(-73.320) translate(499.2,3.9)" textLength="101.3" lengthAdjust="spacingAndGlyphs">ISCc4_IS110_IS1111</text><text transform="translate(816.60,639.00) rotate(-74.629) translate(499.2,3.9)" textLength="106.3" lengthAdjust="spacingAndGlyphs">ISMlo3_IS110_IS1111</text><text transform="translate(816.60,639.00) rotate(-75.938) translate(499.2,3.9)" textLength="113.5" lengthAdjust="spacingAndGlyphs">ISMmg2_IS110_IS1111</text><text transform="translate(816.60,639.00) rotate(-77.247) translate(499.2,3.9)" textLength="115.8" lengthAdjust="spacingAndGlyphs">ISMex29_IS110_IS1111</text><text transform="translate(816.60,639.00) rotate(-78.556) translate(499.2,3.9)" textLength="106.1" lengthAdjust="spacingAndGlyphs">ISAzs4_IS110_IS1111</text><text transform="translate(816.60,639.00) rotate(-79.865) translate(499.2,3.9)" textLength="116.2" lengthAdjust="spacingAndGlyphs">ISMno26_IS110_IS1111</text><text transform="translate(816.60,639.00) rotate(-81.175) translate(499.2,3.9)" textLength="113.0" lengthAdjust="spacingAndGlyphs">ISShsp1_IS110_IS1111</text><text transform="translate(816.60,639.00) rotate(-82.484) translate(499.2,3.9)" textLength="107.3" lengthAdjust="spacingAndGlyphs">ISRsp4_IS110_IS1111</text><text transform="translate(816.60,639.00) rotate(-83.793) translate(499.2,3.9)" textLength="106.3" lengthAdjust="spacingAndGlyphs">ISMlo1_IS110_IS1111</text><text transform="translate(816.60,639.00) rotate(-85.102) translate(499.2,3.9)" textLength="106.3" lengthAdjust="spacingAndGlyphs">ISMlo2_IS110_IS1111</text><text transform="translate(816.60,639.00) rotate(-86.411) translate(499.2,3.9)" textLength="116.2" lengthAdjust="spacingAndGlyphs">ISMno16_IS110_IS1111</text><text transform="translate(816.60,639.00) rotate(-87.720) translate(499.2,3.9)" textLength="112.9" lengthAdjust="spacingAndGlyphs">ISMdi12_IS110_IS1111</text><text transform="translate(816.60,639.00) rotate(-89.029) translate(499.2,3.9)" textLength="106.7" lengthAdjust="spacingAndGlyphs">ISPko7_IS110_IS1111</text><text transform="translate(816.60,639.00) rotate(89.662) translate(-499.2,3.9)" text-anchor="end" textLength="119.3" lengthAdjust="spacingAndGlyphs">ISMtsp17_IS110_IS1111</text><text transform="translate(816.60,639.00) rotate(88.353) translate(-499.2,3.9)" text-anchor="end" textLength="107.2" lengthAdjust="spacingAndGlyphs">ISAs16_IS110_IS1111</text><text transform="translate(816.60,639.00) rotate(87.044) translate(-499.2,3.9)" text-anchor="end" textLength="107.7" lengthAdjust="spacingAndGlyphs">ISAve1_IS110_IS1111</text><text transform="translate(816.60,639.00) rotate(85.735) translate(-499.2,3.9)" text-anchor="end" textLength="123.4" lengthAdjust="spacingAndGlyphs">ISCARN36_IS110_IS1111</text><text transform="translate(816.60,639.00) rotate(84.425) translate(-499.2,3.9)" text-anchor="end" textLength="113.6" lengthAdjust="spacingAndGlyphs">ISBcen3_IS110_IS1111</text><text transform="translate(816.60,639.00) rotate(83.116) translate(-499.2,3.9)" text-anchor="end" textLength="123.4" lengthAdjust="spacingAndGlyphs">ISCARN91_IS110_IS1111</text><text transform="translate(816.60,639.00) rotate(81.807) translate(-499.2,3.9)" text-anchor="end" textLength="123.4" lengthAdjust="spacingAndGlyphs">ISCARN80_IS110_IS1111</text><text transform="translate(816.60,639.00) rotate(80.498) translate(-499.2,3.9)" text-anchor="end" textLength="105.3" lengthAdjust="spacingAndGlyphs">ISAfe1_IS110_IS1111</text><text transform="translate(816.60,639.00) rotate(79.189) translate(-499.2,3.9)" text-anchor="end" textLength="107.9" lengthAdjust="spacingAndGlyphs">IS1383_IS110_IS1111</text><text transform="translate(816.60,639.00) rotate(77.880) translate(-499.2,3.9)" text-anchor="end" textLength="109.6" lengthAdjust="spacingAndGlyphs">ISAzvi3_IS110_IS1111</text><text transform="translate(816.60,639.00) rotate(76.571) translate(-499.2,3.9)" text-anchor="end" textLength="107.0" lengthAdjust="spacingAndGlyphs">ISEc11_IS110_IS1111</text><text transform="translate(816.60,639.00) rotate(75.262) translate(-499.2,3.9)" text-anchor="end" textLength="106.5" lengthAdjust="spacingAndGlyphs">ISSso1_IS110_IS1111</text><text transform="translate(816.60,639.00) rotate(73.953) translate(-499.2,3.9)" text-anchor="end" textLength="111.8" lengthAdjust="spacingAndGlyphs">ISBfun2_IS110_IS1111</text><text transform="translate(816.60,639.00) rotate(72.644) translate(-499.2,3.9)" text-anchor="end" textLength="113.6" lengthAdjust="spacingAndGlyphs">ISBcen5_IS110_IS1111</text><text transform="translate(816.60,639.00) rotate(71.335) translate(-499.2,3.9)" text-anchor="end" textLength="101.5" lengthAdjust="spacingAndGlyphs">IS884_IS110_IS1111</text><text transform="translate(816.60,639.00) rotate(70.025) translate(-499.2,3.9)" text-anchor="end" textLength="113.6" lengthAdjust="spacingAndGlyphs">ISBcen4_IS110_IS1111</text><text transform="translate(816.60,639.00) rotate(68.716) translate(-499.2,3.9)" text-anchor="end" textLength="107.3" lengthAdjust="spacingAndGlyphs">ISPa49_IS110_IS1111</text><text transform="translate(816.60,639.00) rotate(67.407) translate(-499.2,3.9)" text-anchor="end" textLength="123.4" lengthAdjust="spacingAndGlyphs">ISCARN18_IS110_IS1111</text><text transform="translate(816.60,639.00) rotate(66.098) translate(-499.2,3.9)" text-anchor="end" textLength="66.0" lengthAdjust="spacingAndGlyphs">ISRta3_IS110</text><text transform="translate(816.60,639.00) rotate(64.789) translate(-499.2,3.9)" text-anchor="end" textLength="66.0" lengthAdjust="spacingAndGlyphs">ISRta4_IS110</text><text transform="translate(816.60,639.00) rotate(63.480) translate(-499.2,3.9)" text-anchor="end" textLength="123.4" lengthAdjust="spacingAndGlyphs">ISCARN32_IS110_IS1111</text><text transform="translate(816.60,639.00) rotate(62.171) translate(-499.2,3.9)" text-anchor="end" textLength="107.3" lengthAdjust="spacingAndGlyphs">ISPa29_IS110_IS1111</text><text transform="translate(816.60,639.00) rotate(60.862) translate(-499.2,3.9)" text-anchor="end" textLength="129.8" lengthAdjust="spacingAndGlyphs">ISCARN111_IS110_IS1111</text><text transform="translate(816.60,639.00) rotate(59.553) translate(-499.2,3.9)" text-anchor="end" textLength="74.3" lengthAdjust="spacingAndGlyphs">IS1492a_IS110</text><text transform="translate(816.60,639.00) rotate(58.244) translate(-499.2,3.9)" text-anchor="end" textLength="107.9" lengthAdjust="spacingAndGlyphs">IS1492_IS110_IS1111</text><text transform="translate(816.60,639.00) rotate(56.935) translate(-499.2,3.9)" text-anchor="end" textLength="112.3" lengthAdjust="spacingAndGlyphs">ISPsy16_IS110_IS1111</text><text transform="translate(816.60,639.00) rotate(55.625) translate(-499.2,3.9)" text-anchor="end" textLength="111.8" lengthAdjust="spacingAndGlyphs">ISBfun1_IS110_IS1111</text><text transform="translate(816.60,639.00) rotate(54.316) translate(-499.2,3.9)" text-anchor="end" textLength="107.9" lengthAdjust="spacingAndGlyphs">IS5708_IS110_IS1111</text><text transform="translate(816.60,639.00) rotate(53.007) translate(-499.2,3.9)" text-anchor="end" textLength="104.9" lengthAdjust="spacingAndGlyphs">ISSm1_IS110_IS1111</text><text transform="translate(816.60,639.00) rotate(51.698) translate(-499.2,3.9)" text-anchor="end" textLength="107.9" lengthAdjust="spacingAndGlyphs">IS1618_IS110_IS1111</text><text transform="translate(816.60,639.00) rotate(50.389) translate(-499.2,3.9)" text-anchor="end" textLength="113.7" lengthAdjust="spacingAndGlyphs">ISShdy1_IS110_IS1111</text><text transform="translate(816.60,639.00) rotate(49.080) translate(-499.2,3.9)" text-anchor="end" textLength="104.3" lengthAdjust="spacingAndGlyphs">ISSpi2_IS110_IS1111</text><text transform="translate(816.60,639.00) rotate(47.771) translate(-499.2,3.9)" text-anchor="end" textLength="110.0" lengthAdjust="spacingAndGlyphs">ISVisp6_IS110_IS1111</text><text transform="translate(816.60,639.00) rotate(46.462) translate(-499.2,3.9)" text-anchor="end" textLength="117.0" lengthAdjust="spacingAndGlyphs">ISCARN5_IS110_IS1111</text><text transform="translate(816.60,639.00) rotate(45.153) translate(-499.2,3.9)" text-anchor="end" textLength="98.4" lengthAdjust="spacingAndGlyphs">ISBj4_IS110_IS1111</text><text transform="translate(816.60,639.00) rotate(43.844) translate(-499.2,3.9)" text-anchor="end" textLength="107.6" lengthAdjust="spacingAndGlyphs">ISSpo1_IS110_IS1111</text><text transform="translate(816.60,639.00) rotate(42.535) translate(-499.2,3.9)" text-anchor="end" textLength="113.5" lengthAdjust="spacingAndGlyphs">ISMmg1_IS110_IS1111</text><text transform="translate(816.60,639.00) rotate(41.225) translate(-499.2,3.9)" text-anchor="end" textLength="115.8" lengthAdjust="spacingAndGlyphs">ISMex31_IS110_IS1111</text><text transform="translate(816.60,639.00) rotate(39.916) translate(-499.2,3.9)" text-anchor="end" textLength="107.2" lengthAdjust="spacingAndGlyphs">ISAs24_IS110_IS1111</text><text transform="translate(816.60,639.00) rotate(38.607) translate(-499.2,3.9)" text-anchor="end" textLength="106.5" lengthAdjust="spacingAndGlyphs">ISHar6_IS110_IS1111</text><text transform="translate(816.60,639.00) rotate(37.298) translate(-499.2,3.9)" text-anchor="end" textLength="113.4" lengthAdjust="spacingAndGlyphs">ISAeca3_IS110_IS1111</text><text transform="translate(816.60,639.00) rotate(35.989) translate(-499.2,3.9)" text-anchor="end" textLength="114.8" lengthAdjust="spacingAndGlyphs">IS4321R_IS110_IS1111</text><text transform="translate(816.60,639.00) rotate(34.680) translate(-499.2,3.9)" text-anchor="end" textLength="107.9" lengthAdjust="spacingAndGlyphs">IS4321_IS110_IS1111</text><text transform="translate(816.60,639.00) rotate(33.371) translate(-499.2,3.9)" text-anchor="end" textLength="113.4" lengthAdjust="spacingAndGlyphs">IS4321L_IS110_IS1111</text><text transform="translate(816.60,639.00) rotate(32.062) translate(-499.2,3.9)" text-anchor="end" textLength="107.9" lengthAdjust="spacingAndGlyphs">IS5075_IS110_IS1111</text><text transform="translate(816.60,639.00) rotate(30.753) translate(-499.2,3.9)" text-anchor="end" textLength="70.6" lengthAdjust="spacingAndGlyphs">ISPlu13_IS110</text><text transform="translate(816.60,639.00) rotate(29.444) translate(-499.2,3.9)" text-anchor="end" textLength="101.4" lengthAdjust="spacingAndGlyphs">ISSfl8_IS110_IS1111</text><text transform="translate(816.60,639.00) rotate(28.135) translate(-499.2,3.9)" text-anchor="end" textLength="107.9" lengthAdjust="spacingAndGlyphs">IS1328_IS110_IS1111</text><text transform="translate(816.60,639.00) rotate(26.825) translate(-499.2,3.9)" text-anchor="end" textLength="106.9" lengthAdjust="spacingAndGlyphs">ISEch4_IS110_IS1111</text><text transform="translate(816.60,639.00) rotate(25.516) translate(-499.2,3.9)" text-anchor="end" textLength="111.2" lengthAdjust="spacingAndGlyphs">ISPath1_IS110_IS1111</text><text transform="translate(816.60,639.00) rotate(24.207) translate(-499.2,3.9)" text-anchor="end" textLength="113.6" lengthAdjust="spacingAndGlyphs">ISBcen1_IS110_IS1111</text><text transform="translate(816.60,639.00) rotate(22.898) translate(-499.2,3.9)" text-anchor="end" textLength="109.6" lengthAdjust="spacingAndGlyphs">ISAzvi4_IS110_IS1111</text><text transform="translate(816.60,639.00) rotate(21.589) translate(-499.2,3.9)" text-anchor="end" textLength="113.6" lengthAdjust="spacingAndGlyphs">ISBcen2_IS110_IS1111</text><text transform="translate(816.60,639.00) rotate(20.280) translate(-499.2,3.9)" text-anchor="end" textLength="105.9" lengthAdjust="spacingAndGlyphs">ISPsy7_IS110_IS1111</text><text transform="translate(816.60,639.00) rotate(18.971) translate(-499.2,3.9)" text-anchor="end" textLength="101.1" lengthAdjust="spacingAndGlyphs">ISPfl1_IS110_IS1111</text><text transform="translate(816.60,639.00) rotate(17.662) translate(-499.2,3.9)" text-anchor="end" textLength="108.1" lengthAdjust="spacingAndGlyphs">ISVpa1_IS110_IS1111</text><text transform="translate(816.60,639.00) rotate(16.353) translate(-499.2,3.9)" text-anchor="end" textLength="104.3" lengthAdjust="spacingAndGlyphs">ISSpi6_IS110_IS1111</text><text transform="translate(816.60,639.00) rotate(15.044) translate(-499.2,3.9)" text-anchor="end" textLength="107.3" lengthAdjust="spacingAndGlyphs">ISPa55_IS110_IS1111</text><text transform="translate(816.60,639.00) rotate(13.735) translate(-499.2,3.9)" text-anchor="end" textLength="107.3" lengthAdjust="spacingAndGlyphs">ISPa34_IS110_IS1111</text><text transform="translate(816.60,639.00) rotate(12.425) translate(-499.2,3.9)" text-anchor="end" textLength="115.9" lengthAdjust="spacingAndGlyphs">ISAzvi12_IS110_IS1111</text><text transform="translate(816.60,639.00) rotate(11.116) translate(-499.2,3.9)" text-anchor="end" textLength="107.3" lengthAdjust="spacingAndGlyphs">ISPa21_IS110_IS1111</text><text transform="translate(816.60,639.00) rotate(9.807) translate(-499.2,3.9)" text-anchor="end" textLength="104.0" lengthAdjust="spacingAndGlyphs">ISPst6_IS110_IS1111</text><text transform="translate(816.60,639.00) rotate(8.498) translate(-499.2,3.9)" text-anchor="end" textLength="108.0" lengthAdjust="spacingAndGlyphs">ISKpn4_IS110_IS1111</text><text transform="translate(816.60,639.00) rotate(7.189) translate(-499.2,3.9)" text-anchor="end" textLength="113.7" lengthAdjust="spacingAndGlyphs">ISPa119_IS110_IS1111</text><text transform="translate(816.60,639.00) rotate(5.880) translate(-499.2,3.9)" text-anchor="end" textLength="107.3" lengthAdjust="spacingAndGlyphs">ISPa53_IS110_IS1111</text><text transform="translate(816.60,639.00) rotate(4.571) translate(-499.2,3.9)" text-anchor="end" textLength="107.3" lengthAdjust="spacingAndGlyphs">ISPa62_IS110_IS1111</text><text transform="translate(816.60,639.00) rotate(3.262) translate(-499.2,3.9)" text-anchor="end" textLength="107.3" lengthAdjust="spacingAndGlyphs">ISPa25_IS110_IS1111</text><text transform="translate(816.60,639.00) rotate(1.953) translate(-499.2,3.9)" text-anchor="end" textLength="119.8" lengthAdjust="spacingAndGlyphs">ISMdi14B_IS110_IS1111</text><text transform="translate(816.60,639.00) rotate(0.644) translate(-499.2,3.9)" text-anchor="end" textLength="112.9" lengthAdjust="spacingAndGlyphs">ISMdi14_IS110_IS1111</text><text transform="translate(816.60,639.00) rotate(-0.665) translate(-499.2,3.9)" text-anchor="end" textLength="112.5" lengthAdjust="spacingAndGlyphs">ISRhru3_IS110_IS1111</text><text transform="translate(816.60,639.00) rotate(-1.975) translate(-499.2,3.9)" text-anchor="end" textLength="106.5" lengthAdjust="spacingAndGlyphs">ISMdi9_IS110_IS1111</text><text transform="translate(816.60,639.00) rotate(-3.284) translate(-499.2,3.9)" text-anchor="end" textLength="109.5" lengthAdjust="spacingAndGlyphs">ISMex9_IS110_IS1111</text><text transform="translate(816.60,639.00) rotate(-4.593) translate(-499.2,3.9)" text-anchor="end" textLength="112.5" lengthAdjust="spacingAndGlyphs">ISAzs32_IS110_IS1111</text><text transform="translate(816.60,639.00) rotate(-5.902) translate(-499.2,3.9)" text-anchor="end" textLength="116.2" lengthAdjust="spacingAndGlyphs">ISMno22_IS110_IS1111</text><text transform="translate(816.60,639.00) rotate(-7.211) translate(-499.2,3.9)" text-anchor="end" textLength="109.9" lengthAdjust="spacingAndGlyphs">ISMpo4_IS110_IS1111</text><text transform="translate(816.60,639.00) rotate(-8.520) translate(-499.2,3.9)" text-anchor="end" textLength="112.0" lengthAdjust="spacingAndGlyphs">ISGdi15_IS110_IS1111</text><text transform="translate(816.60,639.00) rotate(-9.829) translate(-499.2,3.9)" text-anchor="end" textLength="112.9" lengthAdjust="spacingAndGlyphs">ISMdi10_IS110_IS1111</text><text transform="translate(816.60,639.00) rotate(-11.138) translate(-499.2,3.9)" text-anchor="end" textLength="116.2" lengthAdjust="spacingAndGlyphs">ISMno14_IS110_IS1111</text><text transform="translate(816.60,639.00) rotate(-12.447) translate(-499.2,3.9)" text-anchor="end" textLength="83.7" lengthAdjust="spacingAndGlyphs">ISCARN52_IS110</text><text transform="translate(816.60,639.00) rotate(-13.756) translate(-499.2,3.9)" text-anchor="end" textLength="104.7" lengthAdjust="spacingAndGlyphs">ISRel9_IS110_IS1111</text><text transform="translate(816.60,639.00) rotate(-15.065) translate(-499.2,3.9)" text-anchor="end" textLength="112.5" lengthAdjust="spacingAndGlyphs">ISAzs35_IS110_IS1111</text><text transform="translate(816.60,639.00) rotate(-16.375) translate(-499.2,3.9)" text-anchor="end" textLength="116.2" lengthAdjust="spacingAndGlyphs">ISMno25_IS110_IS1111</text><text transform="translate(816.60,639.00) rotate(-17.684) translate(-499.2,3.9)" text-anchor="end" textLength="105.7" lengthAdjust="spacingAndGlyphs">ISGdi7_IS110_IS1111</text><text transform="translate(816.60,639.00) rotate(-18.993) translate(-499.2,3.9)" text-anchor="end" textLength="113.5" lengthAdjust="spacingAndGlyphs">ISVsp10_IS110_IS1111</text><text transform="translate(816.60,639.00) rotate(-20.302) translate(-499.2,3.9)" text-anchor="end" textLength="74.4" lengthAdjust="spacingAndGlyphs">ISWpi14_IS110</text><text transform="translate(816.60,639.00) rotate(-21.611) translate(-499.2,3.9)" text-anchor="end" textLength="109.3" lengthAdjust="spacingAndGlyphs">ISMch4_IS110_IS1111</text><text transform="translate(816.60,639.00) rotate(-22.920) translate(-499.2,3.9)" text-anchor="end" textLength="66.1" lengthAdjust="spacingAndGlyphs">ISAtu7_IS110</text><text transform="translate(816.60,639.00) rotate(-24.229) translate(-499.2,3.9)" text-anchor="end" textLength="68.1" lengthAdjust="spacingAndGlyphs">IS1533_IS110</text><text transform="translate(816.60,639.00) rotate(-25.538) translate(-499.2,3.9)" text-anchor="end" textLength="102.8" lengthAdjust="spacingAndGlyphs">ISSfr2_IS110_IS1111</text><text transform="translate(816.60,639.00) rotate(-26.847) translate(-499.2,3.9)" text-anchor="end" textLength="107.0" lengthAdjust="spacingAndGlyphs">ISEc45_IS110_IS1111</text><text transform="translate(816.60,639.00) rotate(-28.156) translate(-499.2,3.9)" text-anchor="end" textLength="123.4" lengthAdjust="spacingAndGlyphs">ISCARN28_IS110_IS1111</text><text transform="translate(816.60,639.00) rotate(-29.465) translate(-499.2,3.9)" text-anchor="end" textLength="112.9" lengthAdjust="spacingAndGlyphs">ISMtsp6_IS110_IS1111</text><text transform="translate(816.60,639.00) rotate(-30.775) translate(-499.2,3.9)" text-anchor="end" textLength="106.5" lengthAdjust="spacingAndGlyphs">ISSso6_IS110_IS1111</text><text transform="translate(816.60,639.00) rotate(-32.084) translate(-499.2,3.9)" text-anchor="end" textLength="110.0" lengthAdjust="spacingAndGlyphs">ISVisp2_IS110_IS1111</text><text transform="translate(816.60,639.00) rotate(-33.393) translate(-499.2,3.9)" text-anchor="end" textLength="107.3" lengthAdjust="spacingAndGlyphs">ISCps8_IS110_IS1111</text><text transform="translate(816.60,639.00) rotate(-34.702) translate(-499.2,3.9)" text-anchor="end" textLength="104.3" lengthAdjust="spacingAndGlyphs">ISSpi3_IS110_IS1111</text><text transform="translate(816.60,639.00) rotate(-36.011) translate(-499.2,3.9)" text-anchor="end" textLength="75.0" lengthAdjust="spacingAndGlyphs">IS1000A_IS110</text><text transform="translate(816.60,639.00) rotate(-37.320) translate(-499.2,3.9)" text-anchor="end" textLength="75.0" lengthAdjust="spacingAndGlyphs">IS1000B_IS110</text><text transform="translate(816.60,639.00) rotate(-38.629) translate(-499.2,3.9)" text-anchor="end" textLength="74.6" lengthAdjust="spacingAndGlyphs">ISCaa14_IS110</text><text transform="translate(816.60,639.00) rotate(-39.938) translate(-499.2,3.9)" text-anchor="end" textLength="68.1" lengthAdjust="spacingAndGlyphs">IS1663_IS110</text><text transform="translate(816.60,639.00) rotate(-41.247) translate(-499.2,3.9)" text-anchor="end" textLength="64.0" lengthAdjust="spacingAndGlyphs">ISMb1_IS110</text><text transform="translate(816.60,639.00) rotate(-42.556) translate(-499.2,3.9)" text-anchor="end" textLength="60.4" lengthAdjust="spacingAndGlyphs">ISMl1_IS110</text><text transform="translate(816.60,639.00) rotate(-43.865) translate(-499.2,3.9)" text-anchor="end" textLength="66.3" lengthAdjust="spacingAndGlyphs">ISCro4_IS110</text><text transform="translate(816.60,639.00) rotate(-45.175) translate(-499.2,3.9)" text-anchor="end" textLength="61.8" lengthAdjust="spacingAndGlyphs">IS621_IS110</text><text transform="translate(816.60,639.00) rotate(-46.484) translate(-499.2,3.9)" text-anchor="end" textLength="75.2" lengthAdjust="spacingAndGlyphs">ISStma4_IS110</text><text transform="translate(816.60,639.00) rotate(-47.793) translate(-499.2,3.9)" text-anchor="end" textLength="60.8" lengthAdjust="spacingAndGlyphs">ISOt5_IS110</text><text transform="translate(816.60,639.00) rotate(-49.102) translate(-499.2,3.9)" text-anchor="end" textLength="69.0" lengthAdjust="spacingAndGlyphs">ISNgo2_IS110</text><text transform="translate(816.60,639.00) rotate(-50.411) translate(-499.2,3.9)" text-anchor="end" textLength="69.0" lengthAdjust="spacingAndGlyphs">ISNgo3_IS110</text><text transform="translate(816.60,639.00) rotate(-51.720) translate(-499.2,3.9)" text-anchor="end" textLength="71.4" lengthAdjust="spacingAndGlyphs">ISWen2_IS110</text><text transform="translate(816.60,639.00) rotate(-53.029) translate(-499.2,3.9)" text-anchor="end" textLength="83.7" lengthAdjust="spacingAndGlyphs">ISCARN67_IS110</text><text transform="translate(816.60,639.00) rotate(-54.338) translate(-499.2,3.9)" text-anchor="end" textLength="83.7" lengthAdjust="spacingAndGlyphs">ISCARN57_IS110</text><text transform="translate(816.60,639.00) rotate(-55.647) translate(-499.2,3.9)" text-anchor="end" textLength="83.7" lengthAdjust="spacingAndGlyphs">ISCARN26_IS110</text><text transform="translate(816.60,639.00) rotate(-56.956) translate(-499.2,3.9)" text-anchor="end" textLength="73.9" lengthAdjust="spacingAndGlyphs">ISBcen8_IS110</text><text transform="translate(816.60,639.00) rotate(-58.265) translate(-499.2,3.9)" text-anchor="end" textLength="67.2" lengthAdjust="spacingAndGlyphs">ISEc32_IS110</text><text transform="translate(816.60,639.00) rotate(-59.575) translate(-499.2,3.9)" text-anchor="end" textLength="65.1" lengthAdjust="spacingAndGlyphs">ISSm3_IS110</text><text transform="translate(816.60,639.00) rotate(-60.884) translate(-499.2,3.9)" text-anchor="end" textLength="72.4" lengthAdjust="spacingAndGlyphs">ISNme5_IS110</text><text transform="translate(816.60,639.00) rotate(-62.193) translate(-499.2,3.9)" text-anchor="end" textLength="76.3" lengthAdjust="spacingAndGlyphs">ISMae40_IS110</text><text transform="translate(816.60,639.00) rotate(-63.502) translate(-499.2,3.9)" text-anchor="end" textLength="65.3" lengthAdjust="spacingAndGlyphs">ISPtu2_IS110</text><text transform="translate(816.60,639.00) rotate(-64.811) translate(-499.2,3.9)" text-anchor="end" textLength="61.8" lengthAdjust="spacingAndGlyphs">IS492_IS110</text><text transform="translate(816.60,639.00) rotate(-66.120) translate(-499.2,3.9)" text-anchor="end" textLength="64.5" lengthAdjust="spacingAndGlyphs">ISSpi5_IS110</text><text transform="translate(816.60,639.00) rotate(-67.429) translate(-499.2,3.9)" text-anchor="end" textLength="76.0" lengthAdjust="spacingAndGlyphs">ISShwo3_IS110</text><text transform="translate(816.60,639.00) rotate(-68.738) translate(-499.2,3.9)" text-anchor="end" textLength="74.3" lengthAdjust="spacingAndGlyphs">ISSde13_IS110</text><text transform="translate(816.60,639.00) rotate(-70.047) translate(-499.2,3.9)" text-anchor="end" textLength="67.6" lengthAdjust="spacingAndGlyphs">ISCps7_IS110</text><text transform="translate(816.60,639.00) rotate(-71.356) translate(-499.2,3.9)" text-anchor="end" textLength="72.7" lengthAdjust="spacingAndGlyphs">ISGme8_IS110</text><text transform="translate(816.60,639.00) rotate(-72.665) translate(-499.2,3.9)" text-anchor="end" textLength="69.1" lengthAdjust="spacingAndGlyphs">ISHne3_IS110</text><text transform="translate(816.60,639.00) rotate(-73.975) translate(-499.2,3.9)" text-anchor="end" textLength="76.1" lengthAdjust="spacingAndGlyphs">ISMex17_IS110</text><text transform="translate(816.60,639.00) rotate(-75.284) translate(-499.2,3.9)" text-anchor="end" textLength="70.1" lengthAdjust="spacingAndGlyphs">ISMno7_IS110</text><text transform="translate(816.60,639.00) rotate(-76.593) translate(-499.2,3.9)" text-anchor="end" textLength="69.1" lengthAdjust="spacingAndGlyphs">ISHne4_IS110</text><text transform="translate(816.60,639.00) rotate(-77.902) translate(-499.2,3.9)" text-anchor="end" textLength="67.8" lengthAdjust="spacingAndGlyphs">ISAli16_IS110</text><text transform="translate(816.60,639.00) rotate(-79.211) translate(-499.2,3.9)" text-anchor="end" textLength="75.2" lengthAdjust="spacingAndGlyphs">ISStma6_IS110</text><text transform="translate(816.60,639.00) rotate(-80.520) translate(-499.2,3.9)" text-anchor="end" textLength="75.2" lengthAdjust="spacingAndGlyphs">ISStma8_IS110</text><text transform="translate(816.60,639.00) rotate(-81.829) translate(-499.2,3.9)" text-anchor="end" textLength="75.2" lengthAdjust="spacingAndGlyphs">ISStma7_IS110</text><text transform="translate(816.60,639.00) rotate(-83.138) translate(-499.2,3.9)" text-anchor="end" textLength="61.4" lengthAdjust="spacingAndGlyphs">ISAli8_IS110</text><text transform="translate(816.60,639.00) rotate(-84.447) translate(-499.2,3.9)" text-anchor="end" textLength="61.5" lengthAdjust="spacingAndGlyphs">ISCc2_IS110</text><text transform="translate(816.60,639.00) rotate(-85.756) translate(-499.2,3.9)" text-anchor="end" textLength="71.1" lengthAdjust="spacingAndGlyphs">ISRfsp2_IS110</text><text transform="translate(816.60,639.00) rotate(-87.065) translate(-499.2,3.9)" text-anchor="end" textLength="76.5" lengthAdjust="spacingAndGlyphs">ISMno29_IS110</text><text transform="translate(816.60,639.00) rotate(-88.375) translate(-499.2,3.9)" text-anchor="end" textLength="69.1" lengthAdjust="spacingAndGlyphs">ISHne5_IS110</text><text transform="translate(816.60,639.00) rotate(-89.684) translate(-499.2,3.9)" text-anchor="end" textLength="73.1" lengthAdjust="spacingAndGlyphs">ISMtsp9_IS110</text><text transform="translate(816.60,639.00) rotate(-270.993) translate(499.2,3.9)" textLength="74.4" lengthAdjust="spacingAndGlyphs">ISWpi12_IS110</text><text transform="translate(816.60,639.00) rotate(-272.302) translate(499.2,3.9)" textLength="68.3" lengthAdjust="spacingAndGlyphs">ISCaa7_IS110</text><text transform="translate(816.60,639.00) rotate(-273.611) translate(499.2,3.9)" textLength="74.1" lengthAdjust="spacingAndGlyphs">ISPpu10_IS110</text><text transform="translate(816.60,639.00) rotate(-274.920) translate(499.2,3.9)" textLength="72.5" lengthAdjust="spacingAndGlyphs">ISAar16_IS110</text><text transform="translate(816.60,639.00) rotate(-276.229) translate(499.2,3.9)" textLength="72.5" lengthAdjust="spacingAndGlyphs">ISAar29_IS110</text><text transform="translate(816.60,639.00) rotate(-277.538) translate(499.2,3.9)" textLength="72.5" lengthAdjust="spacingAndGlyphs">ISAar18_IS110</text><text transform="translate(816.60,639.00) rotate(-278.847) translate(499.2,3.9)" textLength="72.5" lengthAdjust="spacingAndGlyphs">ISAar41_IS110</text><text transform="translate(816.60,639.00) rotate(-280.156) translate(499.2,3.9)" textLength="67.2" lengthAdjust="spacingAndGlyphs">ISEc21_IS110</text><text transform="translate(816.60,639.00) rotate(-281.465) translate(499.2,3.9)" textLength="69.5" lengthAdjust="spacingAndGlyphs">ISMch6_IS110</text><text transform="translate(816.60,639.00) rotate(-282.775) translate(499.2,3.9)" textLength="66.5" lengthAdjust="spacingAndGlyphs">ISLxx2_IS110</text><text transform="translate(816.60,639.00) rotate(-284.084) translate(499.2,3.9)" textLength="68.1" lengthAdjust="spacingAndGlyphs">IS1547_IS110</text><text transform="translate(816.60,639.00) rotate(-285.393) translate(499.2,3.9)" textLength="61.7" lengthAdjust="spacingAndGlyphs">ISSfl4_IS110</text><text transform="translate(816.60,639.00) rotate(-286.702) translate(499.2,3.9)" textLength="67.2" lengthAdjust="spacingAndGlyphs">ISEc20_IS110</text><text transform="translate(816.60,639.00) rotate(-288.011) translate(499.2,3.9)" textLength="71.8" lengthAdjust="spacingAndGlyphs">ISBma3_IS110</text><text transform="translate(816.60,639.00) rotate(-289.320) translate(499.2,3.9)" textLength="71.6" lengthAdjust="spacingAndGlyphs">ISArsp5_IS110</text><text transform="translate(816.60,639.00) rotate(-290.629) translate(499.2,3.9)" textLength="71.3" lengthAdjust="spacingAndGlyphs">ISSam1_IS110</text><text transform="translate(816.60,639.00) rotate(-291.938) translate(499.2,3.9)" textLength="61.8" lengthAdjust="spacingAndGlyphs">IS110_IS110</text><text transform="translate(816.60,639.00) rotate(-293.247) translate(499.2,3.9)" textLength="105.6" lengthAdjust="spacingAndGlyphs">ISSgr1_IS110_IS1111</text><text transform="translate(816.60,639.00) rotate(-294.556) translate(499.2,3.9)" textLength="110.7" lengthAdjust="spacingAndGlyphs">ISStac1_IS110_IS1111</text><text transform="translate(816.60,639.00) rotate(-295.865) translate(499.2,3.9)" textLength="65.7" lengthAdjust="spacingAndGlyphs">ISSer1_IS110</text><text transform="translate(816.60,639.00) rotate(-297.175) translate(499.2,3.9)" textLength="80.0" lengthAdjust="spacingAndGlyphs">ISRhosp8_IS110</text><text transform="translate(816.60,639.00) rotate(-298.484) translate(499.2,3.9)" textLength="80.0" lengthAdjust="spacingAndGlyphs">ISRhosp7_IS110</text><text transform="translate(816.60,639.00) rotate(-299.793) translate(499.2,3.9)" textLength="66.1" lengthAdjust="spacingAndGlyphs">ISAar2_IS110</text><text transform="translate(816.60,639.00) rotate(-301.102) translate(499.2,3.9)" textLength="72.5" lengthAdjust="spacingAndGlyphs">ISAar17_IS110</text><text transform="translate(816.60,639.00) rotate(-302.411) translate(499.2,3.9)" textLength="61.8" lengthAdjust="spacingAndGlyphs">IS900_IS110</text><text transform="translate(816.60,639.00) rotate(-303.720) translate(499.2,3.9)" textLength="61.8" lengthAdjust="spacingAndGlyphs">IS902_IS110</text><text transform="translate(816.60,639.00) rotate(-305.029) translate(499.2,3.9)" textLength="61.8" lengthAdjust="spacingAndGlyphs">IS901_IS110</text><text transform="translate(816.60,639.00) rotate(-306.338) translate(499.2,3.9)" textLength="69.7" lengthAdjust="spacingAndGlyphs">ISMav6_IS110</text><text transform="translate(816.60,639.00) rotate(-307.647) translate(499.2,3.9)" textLength="61.8" lengthAdjust="spacingAndGlyphs">IS116_IS110</text><text transform="translate(816.60,639.00) rotate(-308.956) translate(499.2,3.9)" textLength="68.1" lengthAdjust="spacingAndGlyphs">IS2112_IS110</text><text transform="translate(816.60,639.00) rotate(-310.265) translate(499.2,3.9)" textLength="75.1" lengthAdjust="spacingAndGlyphs">ISMysp1_IS110</text><text transform="translate(816.60,639.00) rotate(-311.575) translate(499.2,3.9)" textLength="68.1" lengthAdjust="spacingAndGlyphs">IS1110_IS110</text><text transform="translate(816.60,639.00) rotate(-312.884) translate(499.2,3.9)" textLength="61.8" lengthAdjust="spacingAndGlyphs">IS117_IS110</text><text transform="translate(816.60,639.00) rotate(-314.193) translate(499.2,3.9)" textLength="70.1" lengthAdjust="spacingAndGlyphs">ISMpa1_IS110</text><text transform="translate(816.60,639.00) rotate(-315.502) translate(499.2,3.9)" textLength="67.6" lengthAdjust="spacingAndGlyphs">ISCps5_IS110</text><text transform="translate(816.60,639.00) rotate(-316.811) translate(499.2,3.9)" textLength="67.6" lengthAdjust="spacingAndGlyphs">ISCps4_IS110</text><text transform="translate(816.60,639.00) rotate(-318.120) translate(499.2,3.9)" textLength="64.5" lengthAdjust="spacingAndGlyphs">ISKol6_IS110</text><text transform="translate(816.60,639.00) rotate(-319.429) translate(499.2,3.9)" textLength="66.4" lengthAdjust="spacingAndGlyphs">ISFac9_IS110</text><text transform="translate(816.60,639.00) rotate(-320.738) translate(499.2,3.9)" textLength="72.6" lengthAdjust="spacingAndGlyphs">ISCth14_IS110</text><text transform="translate(816.60,639.00) rotate(-322.047) translate(499.2,3.9)" textLength="66.3" lengthAdjust="spacingAndGlyphs">ISCth6_IS110</text><text transform="translate(816.60,639.00) rotate(-323.356) translate(499.2,3.9)" textLength="74.4" lengthAdjust="spacingAndGlyphs">ISSpn10_IS110</text><text transform="translate(816.60,639.00) rotate(-324.665) translate(499.2,3.9)" textLength="78.9" lengthAdjust="spacingAndGlyphs">ISBth166_IS110</text><text transform="translate(816.60,639.00) rotate(-325.975) translate(499.2,3.9)" textLength="75.6" lengthAdjust="spacingAndGlyphs">ISDha12_IS110</text><text transform="translate(816.60,639.00) rotate(-327.284) translate(499.2,3.9)" textLength="68.3" lengthAdjust="spacingAndGlyphs">ISChy1_IS110</text><text transform="translate(816.60,639.00) rotate(-328.593) translate(499.2,3.9)" textLength="66.7" lengthAdjust="spacingAndGlyphs">ISYps2_IS110</text><text transform="translate(816.60,639.00) rotate(-329.902) translate(499.2,3.9)" textLength="76.1" lengthAdjust="spacingAndGlyphs">ISMex12_IS110</text><text transform="translate(816.60,639.00) rotate(-331.211) translate(499.2,3.9)" textLength="71.3" lengthAdjust="spacingAndGlyphs">ISRel25_IS110</text><text transform="translate(816.60,639.00) rotate(-332.520) translate(499.2,3.9)" textLength="67.4" lengthAdjust="spacingAndGlyphs">ISCsa4_IS110</text><text transform="translate(816.60,639.00) rotate(-333.829) translate(499.2,3.9)" textLength="61.8" lengthAdjust="spacingAndGlyphs">IS653_IS110</text><text transform="translate(816.60,639.00) rotate(-335.138) translate(499.2,3.9)" textLength="61.8" lengthAdjust="spacingAndGlyphs">IS650_IS110</text><text transform="translate(816.60,639.00) rotate(-336.447) translate(499.2,3.9)" textLength="68.3" lengthAdjust="spacingAndGlyphs">ISChy2_IS110</text><text transform="translate(816.60,639.00) rotate(-337.756) translate(499.2,3.9)" textLength="67.9" lengthAdjust="spacingAndGlyphs">ISSep2_IS110</text><text transform="translate(816.60,639.00) rotate(-339.065) translate(499.2,3.9)" textLength="54.6" lengthAdjust="spacingAndGlyphs">ISL4_IS110</text><text transform="translate(816.60,639.00) rotate(-340.375) translate(499.2,3.9)" textLength="67.1" lengthAdjust="spacingAndGlyphs">ISLhe4_IS110</text><text transform="translate(816.60,639.00) rotate(-341.684) translate(499.2,3.9)" textLength="84.1" lengthAdjust="spacingAndGlyphs">ISEnfa110_IS110</text><text transform="translate(816.60,639.00) rotate(-342.993) translate(499.2,3.9)" textLength="75.2" lengthAdjust="spacingAndGlyphs">ISHaha5_IS110</text><text transform="translate(816.60,639.00) rotate(-344.302) translate(499.2,3.9)" textLength="66.3" lengthAdjust="spacingAndGlyphs">ISCth8_IS110</text><text transform="translate(816.60,639.00) rotate(-345.611) translate(499.2,3.9)" textLength="75.6" lengthAdjust="spacingAndGlyphs">ISDha10_IS110</text><text transform="translate(816.60,639.00) rotate(-346.920) translate(499.2,3.9)" textLength="67.5" lengthAdjust="spacingAndGlyphs">ISFnu3_IS110</text><text transform="translate(816.60,639.00) rotate(-348.229) translate(499.2,3.9)" textLength="67.5" lengthAdjust="spacingAndGlyphs">ISFnu4_IS110</text><text transform="translate(816.60,639.00) rotate(-349.538) translate(499.2,3.9)" textLength="66.3" lengthAdjust="spacingAndGlyphs">ISCth7_IS110</text><text transform="translate(816.60,639.00) rotate(-350.847) translate(499.2,3.9)" textLength="72.5" lengthAdjust="spacingAndGlyphs">ISBth13_IS110</text><text transform="translate(816.60,639.00) rotate(-352.156) translate(499.2,3.9)" textLength="105.2" lengthAdjust="spacingAndGlyphs">ISSto6_IS110_IS1111</text><text transform="translate(816.60,639.00) rotate(-353.465) translate(499.2,3.9)" textLength="75.1" lengthAdjust="spacingAndGlyphs">ISC1229_IS110</text><text transform="translate(816.60,639.00) rotate(-354.775) translate(499.2,3.9)" textLength="75.1" lengthAdjust="spacingAndGlyphs">ISC1228_IS110</text><text transform="translate(816.60,639.00) rotate(-356.084) translate(499.2,3.9)" textLength="65.4" lengthAdjust="spacingAndGlyphs">ISSto5_IS110</text><text transform="translate(816.60,639.00) rotate(-357.393) translate(499.2,3.9)" textLength="75.1" lengthAdjust="spacingAndGlyphs">ISC1190_IS110</text><text transform="translate(816.60,639.00) rotate(-358.702) translate(499.2,3.9)" textLength="65.4" lengthAdjust="spacingAndGlyphs">ISSto4_IS110</text><text transform="translate(816.60,639.00) rotate(-0.011) translate(499.2,3.9)" textLength="63.7" lengthAdjust="spacingAndGlyphs">ISLin1_IS110</text></g>
<path d="M1264.00,330.70L1269.80,339.80L1377.70,275.10L1367.40,259.50Z" fill="rgba(0,176,80,0.24)" stroke="#2F5597" stroke-width="1.9" stroke-linejoin="miter"/><path d="M1342.80,572.60L1343.60,584.10L1461.00,573.40L1458.50,554.50Z" fill="rgba(0,176,80,0.24)" stroke="#2F5597" stroke-width="1.9" stroke-linejoin="miter"/><path d="M843.50,1171.30L855.20,1170.40L865.10,1264.70L845.70,1265.60Z" fill="rgba(0,176,80,0.24)" stroke="#2F5597" stroke-width="1.9" stroke-linejoin="miter"/><path d="M442.40,1006.30L449.90,1013.80L369.00,1100.90L355.40,1087.70Z" fill="rgba(0,176,80,0.24)" stroke="#2F5597" stroke-width="1.9" stroke-linejoin="miter"/><path d="M172.20,391.90L165.70,410.20L279.60,447.30L282.70,437.00Z" fill="rgba(0,176,80,0.24)" stroke="#2F5597" stroke-width="1.9" stroke-linejoin="miter"/><path d="M141.20,479.40L137.60,495.90L257.60,520.00L259.40,509.40Z" fill="rgba(112,48,160,0.22)" stroke="#2F5597" stroke-width="1.8" stroke-linejoin="miter"/><path d="M137.60,495.90L134.70,512.40L254.70,532.90L256.50,522.40Z" fill="rgba(112,48,160,0.22)" stroke="#2F5597" stroke-width="1.8" stroke-linejoin="miter"/><path d="M134.70,512.40L131.80,528.20L253.50,545.30L254.10,535.30Z" fill="rgba(112,48,160,0.22)" stroke="#2F5597" stroke-width="1.8" stroke-linejoin="miter"/><path d="M131.80,528.20L129.40,544.10L252.40,558.20L253.50,548.20Z" fill="rgba(112,48,160,0.22)" stroke="#2F5597" stroke-width="1.8" stroke-linejoin="miter"/><path d="M127.10,557.10L124.70,573.50L249.40,584.10L250.00,574.10Z" fill="rgba(112,48,160,0.22)" stroke="#2F5597" stroke-width="1.8" stroke-linejoin="miter"/><path d="M124.70,573.50L123.50,590.00L247.60,597.10L248.20,586.50Z" fill="rgba(112,48,160,0.22)" stroke="#2F5597" stroke-width="1.8" stroke-linejoin="miter"/><path d="M123.50,590.00L123.50,605.90L247.60,610.00L248.20,600.00Z" fill="rgba(112,48,160,0.22)" stroke="#2F5597" stroke-width="1.8" stroke-linejoin="miter"/>
<circle cx="543.4" cy="60.8" r="6.2" fill="#F4B183" stroke="#2F5597" stroke-width="2"/><circle cx="557.3" cy="53.9" r="6.2" fill="#F4B183" stroke="#2F5597" stroke-width="2"/><circle cx="266.5" cy="315" r="6.2" fill="#F4B183" stroke="#2F5597" stroke-width="2"/><circle cx="198" cy="774" r="6.2" fill="#F4B183" stroke="#2F5597" stroke-width="2"/><circle cx="1364.9" cy="331.6" r="6.6" fill="#4472C4" stroke="#2F5597" stroke-width="1.8"/><circle cx="1372" cy="347.2" r="6.6" fill="#4472C4" stroke="#2F5597" stroke-width="1.8"/><circle cx="1391.1" cy="385.8" r="6.6" fill="#4472C4" stroke="#2F5597" stroke-width="1.8"/><circle cx="1395.5" cy="400.8" r="6.6" fill="#4472C4" stroke="#2F5597" stroke-width="1.8"/><circle cx="1439.5" cy="609.5" r="6.6" fill="#4472C4" stroke="#2F5597" stroke-width="1.8"/><circle cx="1439.5" cy="624.5" r="6.6" fill="#4472C4" stroke="#2F5597" stroke-width="1.8"/><circle cx="1058.8" cy="1207" r="6.6" fill="#4472C4" stroke="#2F5597" stroke-width="1.8"/><circle cx="1075.3" cy="1200" r="6.6" fill="#4472C4" stroke="#2F5597" stroke-width="1.8"/>
<defs><linearGradient id="lg" x1="0" y1="0" x2="1" y2="1"><stop offset="0" stop-color="#5284C4"/><stop offset="0.5" stop-color="#4877B9"/><stop offset="1" stop-color="#4272B6"/></linearGradient><linearGradient id="sh" x1="0" y1="0" x2="1" y2="0"><stop offset="0" stop-color="#f4f4f4"/><stop offset="0.12" stop-color="#9a9a9a"/><stop offset="1" stop-color="#7f7f7f"/></linearGradient><filter id="blur1" x="-50%" y="-50%" width="200%" height="200%"><feGaussianBlur stdDeviation="1.2"/></filter><filter id="ds" x="-20%" y="-20%" width="140%" height="140%"><feGaussianBlur in="SourceAlpha" stdDeviation="1.5"/><feOffset dx="2" dy="2"/><feComponentTransfer><feFuncA type="linear" slope="0.45"/></feComponentTransfer><feMerge><feMergeNode/><feMergeNode in="SourceGraphic"/></feMerge></filter></defs><rect x="2" y="180" width="178" height="6" fill="url(#sh)"/><rect x="2" y="0" width="178" height="180.5" fill="url(#lg)"/><g filter="url(#blur1)"><ellipse cx="60.3" cy="28.2" rx="1.7" ry="3.1" fill="#dfe9f7" opacity="0.28"/><ellipse cx="97.2" cy="65.6" rx="0.9" ry="1.6" fill="#dfe9f7" opacity="0.48"/><ellipse cx="10.5" cy="77.5" rx="0.9" ry="1.6" fill="#dfe9f7" opacity="0.29"/><ellipse cx="77.9" cy="145.9" rx="1.0" ry="1.8" fill="#dfe9f7" opacity="0.35"/><ellipse cx="113.2" cy="166.9" rx="1.6" ry="2.9" fill="#dfe9f7" opacity="0.43"/><ellipse cx="173.9" cy="10.1" rx="2.0" ry="3.6" fill="#dfe9f7" opacity="0.38"/><ellipse cx="29.1" cy="22.5" rx="1.2" ry="2.2" fill="#dfe9f7" opacity="0.62"/><ellipse cx="35.4" cy="103.2" rx="1.7" ry="3.1" fill="#dfe9f7" opacity="0.42"/><ellipse cx="99.3" cy="12.9" rx="0.9" ry="1.6" fill="#dfe9f7" opacity="0.34"/><ellipse cx="122.4" cy="76.4" rx="1.2" ry="2.2" fill="#dfe9f7" opacity="0.51"/><ellipse cx="82.9" cy="54.2" rx="1.9" ry="3.4" fill="#dfe9f7" opacity="0.56"/><ellipse cx="46.5" cy="101.9" rx="1.5" ry="2.8" fill="#dfe9f7" opacity="0.64"/><ellipse cx="130.9" cy="52.1" rx="2.2" ry="3.9" fill="#dfe9f7" opacity="0.30"/><ellipse cx="76.8" cy="133.7" rx="1.0" ry="1.8" fill="#dfe9f7" opacity="0.47"/><ellipse cx="10.8" cy="118.3" rx="1.9" ry="3.4" fill="#dfe9f7" opacity="0.51"/><ellipse cx="156.3" cy="56.6" rx="1.8" ry="3.2" fill="#dfe9f7" opacity="0.52"/><ellipse cx="104.9" cy="81.4" rx="2.0" ry="3.6" fill="#dfe9f7" opacity="0.68"/><ellipse cx="86.5" cy="117.6" rx="0.9" ry="1.6" fill="#dfe9f7" opacity="0.57"/><ellipse cx="116.6" cy="174.8" rx="2.0" ry="3.5" fill="#dfe9f7" opacity="0.38"/><ellipse cx="71.1" cy="118.3" rx="0.8" ry="1.5" fill="#dfe9f7" opacity="0.46"/><ellipse cx="33.2" cy="22.4" rx="0.9" ry="1.6" fill="#dfe9f7" opacity="0.60"/><ellipse cx="26.5" cy="45.1" rx="1.3" ry="2.4" fill="#dfe9f7" opacity="0.64"/><ellipse cx="18.0" cy="80.2" rx="1.6" ry="2.8" fill="#dfe9f7" opacity="0.65"/><ellipse cx="146.6" cy="152.3" rx="1.2" ry="2.1" fill="#dfe9f7" opacity="0.44"/><ellipse cx="66.4" cy="155.8" rx="2.1" ry="3.9" fill="#dfe9f7" opacity="0.32"/><ellipse cx="34.7" cy="42.4" rx="1.1" ry="2.0" fill="#dfe9f7" opacity="0.47"/><ellipse cx="106.5" cy="47.7" rx="0.8" ry="1.5" fill="#dfe9f7" opacity="0.44"/><ellipse cx="68.3" cy="100.5" rx="2.1" ry="3.8" fill="#dfe9f7" opacity="0.56"/><ellipse cx="93.7" cy="109.5" rx="1.7" ry="3.1" fill="#dfe9f7" opacity="0.27"/><ellipse cx="160.5" cy="137.7" rx="2.0" ry="3.6" fill="#dfe9f7" opacity="0.61"/><ellipse cx="72.3" cy="71.4" rx="0.9" ry="1.7" fill="#dfe9f7" opacity="0.54"/><ellipse cx="14.8" cy="13.7" rx="1.1" ry="2.0" fill="#dfe9f7" opacity="0.32"/><ellipse cx="63.2" cy="11.1" rx="0.8" ry="1.4" fill="#dfe9f7" opacity="0.32"/><ellipse cx="21.7" cy="65.3" rx="0.8" ry="1.5" fill="#dfe9f7" opacity="0.64"/><ellipse cx="110.8" cy="27.8" rx="1.2" ry="2.1" fill="#dfe9f7" opacity="0.41"/><ellipse cx="67.4" cy="23.4" rx="2.0" ry="3.6" fill="#dfe9f7" opacity="0.70"/><ellipse cx="85.1" cy="86.2" rx="0.9" ry="1.7" fill="#dfe9f7" opacity="0.30"/><ellipse cx="63.6" cy="48.1" rx="2.0" ry="3.5" fill="#dfe9f7" opacity="0.32"/><ellipse cx="8.0" cy="167.5" rx="1.5" ry="2.8" fill="#dfe9f7" opacity="0.32"/><ellipse cx="98.5" cy="6.7" rx="1.5" ry="2.8" fill="#dfe9f7" opacity="0.69"/><ellipse cx="154.2" cy="123.1" rx="1.2" ry="2.1" fill="#dfe9f7" opacity="0.42"/><ellipse cx="33.1" cy="136.3" rx="1.5" ry="2.8" fill="#dfe9f7" opacity="0.60"/><ellipse cx="61.4" cy="40.8" rx="1.9" ry="3.5" fill="#dfe9f7" opacity="0.69"/><ellipse cx="152.4" cy="142.3" rx="1.9" ry="3.5" fill="#dfe9f7" opacity="0.58"/><ellipse cx="43.5" cy="92.1" rx="1.3" ry="2.3" fill="#dfe9f7" opacity="0.26"/><ellipse cx="8.9" cy="50.6" rx="1.2" ry="2.1" fill="#dfe9f7" opacity="0.56"/><ellipse cx="170.4" cy="79.8" rx="2.1" ry="3.8" fill="#dfe9f7" opacity="0.69"/><ellipse cx="170.2" cy="65.4" rx="1.1" ry="2.0" fill="#dfe9f7" opacity="0.35"/><ellipse cx="38.2" cy="37.6" rx="1.7" ry="3.0" fill="#dfe9f7" opacity="0.66"/><ellipse cx="150.2" cy="85.4" rx="1.7" ry="3.1" fill="#dfe9f7" opacity="0.61"/><ellipse cx="18.8" cy="116.9" rx="2.1" ry="3.7" fill="#dfe9f7" opacity="0.60"/><ellipse cx="134.5" cy="85.2" rx="1.0" ry="1.9" fill="#dfe9f7" opacity="0.61"/><ellipse cx="61.9" cy="141.3" rx="2.2" ry="3.9" fill="#dfe9f7" opacity="0.43"/><ellipse cx="73.8" cy="166.7" rx="1.8" ry="3.3" fill="#dfe9f7" opacity="0.33"/><ellipse cx="26.1" cy="28.3" rx="2.1" ry="3.7" fill="#dfe9f7" opacity="0.61"/><ellipse cx="29.4" cy="145.8" rx="2.2" ry="3.9" fill="#dfe9f7" opacity="0.55"/><ellipse cx="65.0" cy="97.5" rx="1.0" ry="1.8" fill="#dfe9f7" opacity="0.26"/><ellipse cx="172.9" cy="115.0" rx="1.5" ry="2.8" fill="#dfe9f7" opacity="0.67"/><ellipse cx="79.5" cy="153.7" rx="2.0" ry="3.5" fill="#dfe9f7" opacity="0.34"/><ellipse cx="47.8" cy="53.0" rx="1.1" ry="2.0" fill="#dfe9f7" opacity="0.51"/><ellipse cx="49.1" cy="74.9" rx="1.0" ry="1.8" fill="#dfe9f7" opacity="0.66"/><ellipse cx="65.6" cy="81.7" rx="1.6" ry="2.9" fill="#dfe9f7" opacity="0.66"/><ellipse cx="77.2" cy="161.7" rx="1.5" ry="2.7" fill="#dfe9f7" opacity="0.49"/><ellipse cx="95.1" cy="5.3" rx="1.4" ry="2.5" fill="#dfe9f7" opacity="0.33"/><ellipse cx="4.7" cy="141.1" rx="1.0" ry="1.9" fill="#dfe9f7" opacity="0.46"/><ellipse cx="130.2" cy="98.8" rx="1.3" ry="2.3" fill="#dfe9f7" opacity="0.48"/><ellipse cx="100.6" cy="138.5" rx="0.9" ry="1.7" fill="#dfe9f7" opacity="0.50"/><ellipse cx="47.2" cy="50.2" rx="1.9" ry="3.4" fill="#dfe9f7" opacity="0.48"/><ellipse cx="101.7" cy="134.2" rx="2.1" ry="3.7" fill="#dfe9f7" opacity="0.45"/><ellipse cx="110.6" cy="90.0" rx="1.5" ry="2.7" fill="#dfe9f7" opacity="0.56"/><ellipse cx="82.7" cy="94.8" rx="3" ry="14" fill="#9bb9e0" opacity="0.25" transform="rotate(-12 82.7 94.8)"/><ellipse cx="87.2" cy="165.8" rx="3" ry="14" fill="#9bb9e0" opacity="0.25" transform="rotate(-12 87.2 165.8)"/><ellipse cx="125.7" cy="154.5" rx="3" ry="14" fill="#9bb9e0" opacity="0.25" transform="rotate(-12 125.7 154.5)"/><ellipse cx="167.9" cy="47.2" rx="3" ry="14" fill="#9bb9e0" opacity="0.25" transform="rotate(-12 167.9 47.2)"/><ellipse cx="101.4" cy="166.1" rx="3" ry="14" fill="#9bb9e0" opacity="0.25" transform="rotate(-12 101.4 166.1)"/><ellipse cx="150.2" cy="25.9" rx="3" ry="14" fill="#9bb9e0" opacity="0.25" transform="rotate(-12 150.2 25.9)"/><ellipse cx="25.2" cy="78.9" rx="3" ry="14" fill="#9bb9e0" opacity="0.25" transform="rotate(-12 25.2 78.9)"/><ellipse cx="16.6" cy="43.9" rx="3" ry="14" fill="#9bb9e0" opacity="0.25" transform="rotate(-12 16.6 43.9)"/><ellipse cx="16.7" cy="118.5" rx="3" ry="14" fill="#9bb9e0" opacity="0.25" transform="rotate(-12 16.7 118.5)"/><ellipse cx="140.4" cy="158.1" rx="3" ry="14" fill="#9bb9e0" opacity="0.25" transform="rotate(-12 140.4 158.1)"/><ellipse cx="30.9" cy="126.6" rx="3" ry="14" fill="#9bb9e0" opacity="0.25" transform="rotate(-12 30.9 126.6)"/><ellipse cx="118.9" cy="26.9" rx="3" ry="14" fill="#9bb9e0" opacity="0.25" transform="rotate(-12 118.9 26.9)"/><ellipse cx="157.6" cy="170.4" rx="3" ry="14" fill="#9bb9e0" opacity="0.25" transform="rotate(-12 157.6 170.4)"/><ellipse cx="42.2" cy="167.7" rx="3" ry="14" fill="#9bb9e0" opacity="0.25" transform="rotate(-12 42.2 167.7)"/></g><rect x="2" y="168" width="178" height="1.2" fill="#7fa3d6" opacity="0.6"/><g filter="url(#ds)"><path d="M143.85,55.45 A61.1,61.1 0 1 0 143.85,125.55" fill="none" stroke="#fbfbfb" stroke-width="12.6"/><rect x="57.8" y="65.6" width="37.6" height="6.2" fill="#fbfbfb"/><rect x="72.6" y="65.6" width="7.4" height="50.6" fill="#fbfbfb"/><path d="M95.6,116.2 V77.5 H102.6 V83 C105,79 109,76.8 114,76.8 C123,76.8 128.2,82 128.2,92 V116.2 H121 V93 C121,86 118,83 113,83 C106.5,83 102.6,88 102.6,95 V116.2 Z" fill="#fbfbfb"/></g>
<text x="203" y="47.7" font-family="Liberation Sans, sans-serif" font-size="36" fill="#44546A" textLength="191" lengthAdjust="spacingAndGlyphs">Fig. IS110.3</text>
<rect x="1207.5" y="13.7" width="487.2" height="153.6" fill="#fff" stroke="#44546A" stroke-width="3"/>
<text x="1224" y="75.8" font-family="Liberation Sans, sans-serif" font-size="49.4" fill="#44546A" textLength="432" lengthAdjust="spacingAndGlyphs">Transposase-based</text>
<text x="1225.5" y="143.1" font-family="Liberation Sans, sans-serif" font-size="49.4" fill="#44546A" textLength="402" lengthAdjust="spacingAndGlyphs">Phylogenetic Tree</text>
<rect x="29" y="1170" width="68.5" height="23" fill="#7030A0" stroke="#2F5597" stroke-width="1.6"/>
<rect x="28.5" y="1211.5" width="68.5" height="23" fill="#00B050" stroke="#2F5597" stroke-width="1.6"/>
<text x="113" y="1184.3" font-family="Liberation Sans, sans-serif" font-size="20" fill="#111" textLength="312" lengthAdjust="spacingAndGlyphs">attC insertion, Tetu Holmes 2008</text>
<text x="113" y="1226.8" font-family="Liberation Sans, sans-serif" font-size="20" fill="#111" textLength="121" lengthAdjust="spacingAndGlyphs">rep insertion</text>
</svg></body></html>
